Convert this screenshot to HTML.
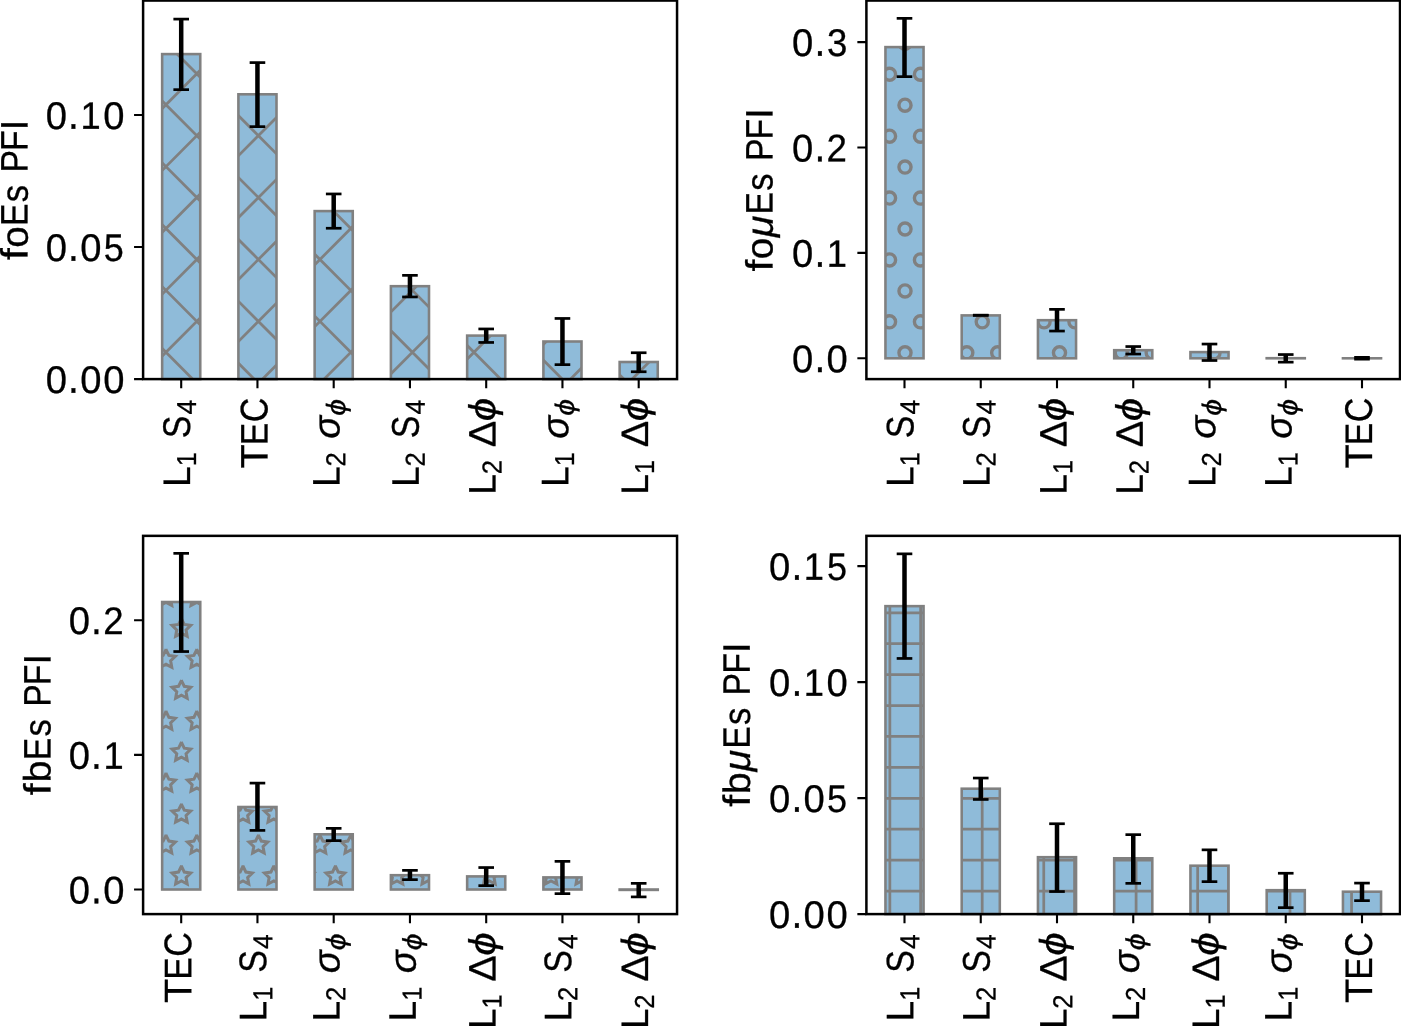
<!DOCTYPE html>
<html><head><meta charset="utf-8"><title>PFI bar charts</title>
<style>
html,body{margin:0;padding:0;background:#fff;}
svg{display:block;will-change:transform;font-family:"Liberation Sans",sans-serif;}
text{fill:#000;stroke:#000;stroke-width:0.3px;text-rendering:geometricPrecision;}
</style></head>
<body>
<svg width="1401" height="1026" viewBox="0 0 1401 1026">
<defs><clipPath id="c1"><rect x="162.15" y="54.10" width="38.10" height="325.00"/></clipPath><clipPath id="c2"><rect x="238.40" y="94.30" width="38.10" height="284.80"/></clipPath><clipPath id="c3"><rect x="314.65" y="211.10" width="38.10" height="168.00"/></clipPath><clipPath id="c4"><rect x="390.90" y="286.20" width="38.10" height="92.90"/></clipPath><clipPath id="c5"><rect x="467.15" y="335.60" width="38.10" height="43.50"/></clipPath><clipPath id="c6"><rect x="543.40" y="341.50" width="38.10" height="37.60"/></clipPath><clipPath id="c7"><rect x="619.65" y="362.00" width="38.10" height="17.10"/></clipPath><clipPath id="c8"><rect x="885.45" y="47.10" width="38.10" height="311.20"/></clipPath><clipPath id="c9"><rect x="961.70" y="315.40" width="38.10" height="42.90"/></clipPath><clipPath id="c10"><rect x="1037.95" y="320.20" width="38.10" height="38.10"/></clipPath><clipPath id="c11"><rect x="1114.20" y="350.20" width="38.10" height="8.10"/></clipPath><clipPath id="c12"><rect x="1190.45" y="352.10" width="38.10" height="6.20"/></clipPath><clipPath id="c13"><rect x="1266.70" y="358.20" width="38.10" height="0.10"/></clipPath><clipPath id="c14"><rect x="1342.95" y="358.30" width="38.10" height="0.01"/></clipPath><clipPath id="c15"><rect x="162.15" y="602.00" width="38.10" height="287.50"/></clipPath><clipPath id="c16"><rect x="238.40" y="807.00" width="38.10" height="82.50"/></clipPath><clipPath id="c17"><rect x="314.65" y="834.30" width="38.10" height="55.20"/></clipPath><clipPath id="c18"><rect x="390.90" y="875.20" width="38.10" height="14.30"/></clipPath><clipPath id="c19"><rect x="467.15" y="876.40" width="38.10" height="13.10"/></clipPath><clipPath id="c20"><rect x="543.40" y="877.40" width="38.10" height="12.10"/></clipPath><clipPath id="c21"><rect x="619.65" y="889.50" width="38.10" height="0.40"/></clipPath><clipPath id="c22"><rect x="885.45" y="606.15" width="38.10" height="307.95"/></clipPath><clipPath id="c23"><rect x="961.70" y="788.70" width="38.10" height="125.40"/></clipPath><clipPath id="c24"><rect x="1037.95" y="857.20" width="38.10" height="56.90"/></clipPath><clipPath id="c25"><rect x="1114.20" y="858.30" width="38.10" height="55.80"/></clipPath><clipPath id="c26"><rect x="1190.45" y="865.70" width="38.10" height="48.40"/></clipPath><clipPath id="c27"><rect x="1266.70" y="890.20" width="38.10" height="23.90"/></clipPath><clipPath id="c28"><rect x="1342.95" y="891.70" width="38.10" height="22.40"/></clipPath></defs>
<g><rect x="162.15" y="54.10" width="38.10" height="325.00" fill="#8fbbd9"/><g clip-path="url(#c1)"><path d="M150.15 -3.19L212.25 -65.59M150.15 58.71L212.25 -3.69M150.15 120.61L212.25 58.21M150.15 182.51L212.25 120.11M150.15 244.41L212.25 182.01M150.15 306.31L212.25 243.91M150.15 368.21L212.25 305.81M150.15 430.11L212.25 367.71M150.15 492.01L212.25 429.61M150.15 -35.00L212.25 27.40M150.15 26.90L212.25 89.30M150.15 88.80L212.25 151.20M150.15 150.70L212.25 213.10M150.15 212.60L212.25 275.00M150.15 274.50L212.25 336.90M150.15 336.40L212.25 398.80M150.15 398.30L212.25 460.70" stroke="#808080" stroke-width="2.75" fill="none"/></g><rect x="162.15" y="54.10" width="38.10" height="325.00" fill="none" stroke="#808080" stroke-width="2.58"/><rect x="238.40" y="94.30" width="38.10" height="284.80" fill="#8fbbd9"/><g clip-path="url(#c2)"><path d="M226.40 43.99L288.50 -18.41M226.40 105.89L288.50 43.49M226.40 167.79L288.50 105.39M226.40 229.69L288.50 167.29M226.40 291.59L288.50 229.19M226.40 353.49L288.50 291.09M226.40 415.39L288.50 352.99M226.40 477.29L288.50 414.89M226.40 -20.28L288.50 42.12M226.40 41.62L288.50 104.02M226.40 103.52L288.50 165.92M226.40 165.42L288.50 227.82M226.40 227.32L288.50 289.72M226.40 289.22L288.50 351.62M226.40 351.12L288.50 413.52M226.40 413.02L288.50 475.42" stroke="#808080" stroke-width="2.75" fill="none"/></g><rect x="238.40" y="94.30" width="38.10" height="284.80" fill="none" stroke="#808080" stroke-width="2.58"/><rect x="314.65" y="211.10" width="38.10" height="168.00" fill="#8fbbd9"/><g clip-path="url(#c3)"><path d="M302.65 153.07L364.75 90.67M302.65 214.97L364.75 152.57M302.65 276.87L364.75 214.47M302.65 338.77L364.75 276.37M302.65 400.67L364.75 338.27M302.65 462.57L364.75 400.17M302.65 118.24L364.75 180.64M302.65 180.14L364.75 242.54M302.65 242.04L364.75 304.44M302.65 303.94L364.75 366.34M302.65 365.84L364.75 428.24M302.65 427.74L364.75 490.14" stroke="#808080" stroke-width="2.75" fill="none"/></g><rect x="314.65" y="211.10" width="38.10" height="168.00" fill="none" stroke="#808080" stroke-width="2.58"/><rect x="390.90" y="286.20" width="38.10" height="92.90" fill="#8fbbd9"/><g clip-path="url(#c4)"><path d="M378.90 262.15L441.00 199.75M378.90 324.05L441.00 261.65M378.90 385.95L441.00 323.55M378.90 447.85L441.00 385.45M378.90 509.75L441.00 447.35M378.90 194.86L441.00 257.26M378.90 256.76L441.00 319.16M378.90 318.66L441.00 381.06M378.90 380.56L441.00 442.96M378.90 442.46L441.00 504.86" stroke="#808080" stroke-width="2.75" fill="none"/></g><rect x="390.90" y="286.20" width="38.10" height="92.90" fill="none" stroke="#808080" stroke-width="2.58"/><rect x="467.15" y="335.60" width="38.10" height="43.50" fill="#8fbbd9"/><g clip-path="url(#c5)"><path d="M455.15 309.33L517.25 246.92M455.15 371.23L517.25 308.82M455.15 433.13L517.25 370.72M455.15 495.03L517.25 432.62M455.15 209.58L517.25 271.98M455.15 271.48L517.25 333.88M455.15 333.38L517.25 395.78M455.15 395.28L517.25 457.68" stroke="#808080" stroke-width="2.75" fill="none"/></g><rect x="467.15" y="335.60" width="38.10" height="43.50" fill="none" stroke="#808080" stroke-width="2.58"/><rect x="543.40" y="341.50" width="38.10" height="37.60" fill="#8fbbd9"/><g clip-path="url(#c6)"><path d="M531.40 294.61L593.50 232.20M531.40 356.51L593.50 294.10M531.40 418.41L593.50 356.00M531.40 480.31L593.50 417.90M531.40 224.30L593.50 286.70M531.40 286.20L593.50 348.60M531.40 348.10L593.50 410.50M531.40 410.00L593.50 472.40" stroke="#808080" stroke-width="2.75" fill="none"/></g><rect x="543.40" y="341.50" width="38.10" height="37.60" fill="none" stroke="#808080" stroke-width="2.58"/><rect x="619.65" y="362.00" width="38.10" height="17.10" fill="#8fbbd9"/><g clip-path="url(#c7)"><path d="M607.65 341.78L669.75 279.38M607.65 403.68L669.75 341.28M607.65 465.58L669.75 403.18M607.65 239.02L669.75 301.43M607.65 300.92L669.75 363.33M607.65 362.82L669.75 425.23M607.65 424.72L669.75 487.13" stroke="#808080" stroke-width="2.75" fill="none"/></g><rect x="619.65" y="362.00" width="38.10" height="17.10" fill="none" stroke="#808080" stroke-width="2.58"/><rect x="178.95" y="19.10" width="4.5" height="70.55" fill="#000"/><rect x="173.40" y="17.75" width="15.6" height="2.7" fill="#000"/><rect x="173.40" y="88.30" width="15.6" height="2.7" fill="#000"/><rect x="255.20" y="62.60" width="4.5" height="64.05" fill="#000"/><rect x="249.65" y="61.25" width="15.6" height="2.7" fill="#000"/><rect x="249.65" y="125.30" width="15.6" height="2.7" fill="#000"/><rect x="331.45" y="193.95" width="4.5" height="34.30" fill="#000"/><rect x="325.90" y="192.60" width="15.6" height="2.7" fill="#000"/><rect x="325.90" y="226.90" width="15.6" height="2.7" fill="#000"/><rect x="407.70" y="275.35" width="4.5" height="21.60" fill="#000"/><rect x="402.15" y="274.00" width="15.6" height="2.7" fill="#000"/><rect x="402.15" y="295.60" width="15.6" height="2.7" fill="#000"/><rect x="483.95" y="328.95" width="4.5" height="13.50" fill="#000"/><rect x="478.40" y="327.60" width="15.6" height="2.7" fill="#000"/><rect x="478.40" y="341.10" width="15.6" height="2.7" fill="#000"/><rect x="560.20" y="318.45" width="4.5" height="46.20" fill="#000"/><rect x="554.65" y="317.10" width="15.6" height="2.7" fill="#000"/><rect x="554.65" y="363.30" width="15.6" height="2.7" fill="#000"/><rect x="636.45" y="352.75" width="4.5" height="19.00" fill="#000"/><rect x="630.90" y="351.40" width="15.6" height="2.7" fill="#000"/><rect x="630.90" y="370.40" width="15.6" height="2.7" fill="#000"/><path d="M181.20 379.10v9.04M257.45 379.10v9.04M333.70 379.10v9.04M409.95 379.10v9.04M486.20 379.10v9.04M562.45 379.10v9.04M638.70 379.10v9.04M143.10 379.10h-9.04M143.10 247.05h-9.04M143.10 115.00h-9.04" stroke="#000" stroke-width="2.1" fill="none"/><rect x="143.10" y="0.55" width="533.95" height="378.55" fill="none" stroke="#000" stroke-width="2.5"/><g><text transform="matrix(0.9874 0.0006 -0.0006 1 45.68 392.99)" font-size="38.65">0</text><text transform="matrix(0.9308 0.0006 -0.0006 1 68.11 392.84)" font-size="41.90">.</text><text transform="matrix(0.9874 0.0006 -0.0006 1 80.19 392.99)" font-size="38.65">0</text><text transform="matrix(0.9874 0.0006 -0.0006 1 103.20 392.99)" font-size="38.65">0</text></g><g><text transform="matrix(0.9874 0.0006 -0.0006 1 45.68 260.94)" font-size="38.65">0</text><text transform="matrix(0.9308 0.0006 -0.0006 1 68.11 260.79)" font-size="41.90">.</text><text transform="matrix(0.9874 0.0006 -0.0006 1 80.19 260.94)" font-size="38.65">0</text><text transform="matrix(0.9347 0.0006 -0.0006 1 103.65 260.94)" font-size="38.53">5</text></g><g><text transform="matrix(0.9874 0.0006 -0.0006 1 45.68 128.89)" font-size="38.65">0</text><text transform="matrix(0.9308 0.0006 -0.0006 1 68.11 128.74)" font-size="41.90">.</text><text transform="matrix(0.9481 0.0006 -0.0006 1 80.53 128.74)" font-size="38.31">1</text><text transform="matrix(0.9874 0.0006 -0.0006 1 103.20 128.89)" font-size="38.65">0</text></g><g aria-label="L1S4"><text transform="matrix(0.0006 -0.9701 1 0.0006 189.96 487.10)" font-size="38.31">L</text><text transform="matrix(0.0006 -0.9226 1 0.0006 195.89 466.24)" font-size="27.40">1</text><text transform="matrix(0.0006 -0.8800 1 0.0006 190.11 438.18)" font-size="38.65">S</text><text transform="matrix(0.0006 -0.9677 1 0.0006 195.89 414.57)" font-size="27.40">4</text></g><g aria-label="TEC"><text transform="matrix(0.0006 -1.0304 1 0.0006 267.43 468.39)" font-size="38.31">T</text><text transform="matrix(0.0006 -0.8800 1 0.0006 267.43 445.14)" font-size="38.31">E</text><text transform="matrix(0.0006 -0.8800 1 0.0006 267.57 422.28)" font-size="38.65">C</text></g><g aria-label="L2sig"><text transform="matrix(0.0006 -0.9701 1 0.0006 339.39 487.10)" font-size="38.31">L</text><text transform="matrix(0.0006 -0.9325 1 0.0006 345.32 466.54)" font-size="27.46">2</text><text transform="matrix(0.0006 -1.0038 1 0.0006 339.55 438.68)" font-size="37.73" font-style="italic">σ</text><text transform="matrix(0.0006 -1.1200 1 0.0006 345.13 415.68)" font-size="26.81" font-style="italic">ϕ</text></g><g aria-label="L2S4"><text transform="matrix(0.0006 -0.9701 1 0.0006 418.71 487.10)" font-size="38.31">L</text><text transform="matrix(0.0006 -0.9325 1 0.0006 424.64 466.54)" font-size="27.46">2</text><text transform="matrix(0.0006 -0.8800 1 0.0006 418.86 438.18)" font-size="38.65">S</text><text transform="matrix(0.0006 -0.9677 1 0.0006 424.64 414.57)" font-size="27.40">4</text></g><g aria-label="L2dphi"><text transform="matrix(0.0006 -0.9701 1 0.0006 495.60 494.85)" font-size="38.31">L</text><text transform="matrix(0.0006 -0.9325 1 0.0006 501.54 474.29)" font-size="27.46">2</text><text transform="matrix(0.0006 -1.0381 1 0.0006 495.60 447.16)" font-size="38.31">Δ</text><text transform="matrix(0.0006 -1.1200 1 0.0006 495.32 421.37)" font-size="37.54" font-style="italic">ϕ</text></g><g aria-label="L1sig"><text transform="matrix(0.0006 -0.9701 1 0.0006 568.14 487.10)" font-size="38.31">L</text><text transform="matrix(0.0006 -0.9226 1 0.0006 574.08 466.24)" font-size="27.40">1</text><text transform="matrix(0.0006 -1.0038 1 0.0006 568.30 438.68)" font-size="37.73" font-style="italic">σ</text><text transform="matrix(0.0006 -1.1200 1 0.0006 573.88 415.68)" font-size="26.81" font-style="italic">ϕ</text></g><g aria-label="L1dphi"><text transform="matrix(0.0006 -0.9701 1 0.0006 648.10 494.85)" font-size="38.31">L</text><text transform="matrix(0.0006 -0.9226 1 0.0006 654.04 473.99)" font-size="27.40">1</text><text transform="matrix(0.0006 -1.0381 1 0.0006 648.10 447.16)" font-size="38.31">Δ</text><text transform="matrix(0.0006 -1.1200 1 0.0006 647.82 421.37)" font-size="37.54" font-style="italic">ϕ</text></g><g><text transform="matrix(0.0006 -1.1200 1 0.0006 27.60 260.04)" font-size="37.99">f</text><text transform="matrix(0.0006 -1.0116 1 0.0006 27.75 247.80)" font-size="37.94">o</text><text transform="matrix(0.0006 -0.8800 1 0.0006 27.60 225.93)" font-size="38.31">E</text><text transform="matrix(0.0006 -0.9100 1 0.0006 27.75 202.21)" font-size="38.05">s</text><text transform="matrix(0.0006 -0.8800 1 0.0006 27.60 172.56)" font-size="38.31">P</text><text transform="matrix(0.0006 -0.8800 1 0.0006 27.60 150.96)" font-size="38.31">F</text><text transform="matrix(0.0006 -0.9941 1 0.0006 27.60 130.24)" font-size="38.31">I</text></g></g>
<g><rect x="885.45" y="47.10" width="38.10" height="311.20" fill="#8fbbd9"/><g clip-path="url(#c8)"><circle cx="858.65" cy="383.75" r="6.05" fill="none" stroke="#808080" stroke-width="3.4"/><circle cx="858.65" cy="321.85" r="6.05" fill="none" stroke="#808080" stroke-width="3.4"/><circle cx="858.65" cy="259.95" r="6.05" fill="none" stroke="#808080" stroke-width="3.4"/><circle cx="858.65" cy="198.05" r="6.05" fill="none" stroke="#808080" stroke-width="3.4"/><circle cx="858.65" cy="136.15" r="6.05" fill="none" stroke="#808080" stroke-width="3.4"/><circle cx="858.65" cy="74.25" r="6.05" fill="none" stroke="#808080" stroke-width="3.4"/><circle cx="858.65" cy="12.35" r="6.05" fill="none" stroke="#808080" stroke-width="3.4"/><circle cx="874.10" cy="352.80" r="6.05" fill="none" stroke="#808080" stroke-width="3.4"/><circle cx="874.10" cy="290.90" r="6.05" fill="none" stroke="#808080" stroke-width="3.4"/><circle cx="874.10" cy="229.00" r="6.05" fill="none" stroke="#808080" stroke-width="3.4"/><circle cx="874.10" cy="167.10" r="6.05" fill="none" stroke="#808080" stroke-width="3.4"/><circle cx="874.10" cy="105.20" r="6.05" fill="none" stroke="#808080" stroke-width="3.4"/><circle cx="874.10" cy="43.30" r="6.05" fill="none" stroke="#808080" stroke-width="3.4"/><circle cx="889.55" cy="383.75" r="6.05" fill="none" stroke="#808080" stroke-width="3.4"/><circle cx="889.55" cy="321.85" r="6.05" fill="none" stroke="#808080" stroke-width="3.4"/><circle cx="889.55" cy="259.95" r="6.05" fill="none" stroke="#808080" stroke-width="3.4"/><circle cx="889.55" cy="198.05" r="6.05" fill="none" stroke="#808080" stroke-width="3.4"/><circle cx="889.55" cy="136.15" r="6.05" fill="none" stroke="#808080" stroke-width="3.4"/><circle cx="889.55" cy="74.25" r="6.05" fill="none" stroke="#808080" stroke-width="3.4"/><circle cx="889.55" cy="12.35" r="6.05" fill="none" stroke="#808080" stroke-width="3.4"/><circle cx="905.00" cy="352.80" r="6.05" fill="none" stroke="#808080" stroke-width="3.4"/><circle cx="905.00" cy="290.90" r="6.05" fill="none" stroke="#808080" stroke-width="3.4"/><circle cx="905.00" cy="229.00" r="6.05" fill="none" stroke="#808080" stroke-width="3.4"/><circle cx="905.00" cy="167.10" r="6.05" fill="none" stroke="#808080" stroke-width="3.4"/><circle cx="905.00" cy="105.20" r="6.05" fill="none" stroke="#808080" stroke-width="3.4"/><circle cx="905.00" cy="43.30" r="6.05" fill="none" stroke="#808080" stroke-width="3.4"/><circle cx="920.45" cy="383.75" r="6.05" fill="none" stroke="#808080" stroke-width="3.4"/><circle cx="920.45" cy="321.85" r="6.05" fill="none" stroke="#808080" stroke-width="3.4"/><circle cx="920.45" cy="259.95" r="6.05" fill="none" stroke="#808080" stroke-width="3.4"/><circle cx="920.45" cy="198.05" r="6.05" fill="none" stroke="#808080" stroke-width="3.4"/><circle cx="920.45" cy="136.15" r="6.05" fill="none" stroke="#808080" stroke-width="3.4"/><circle cx="920.45" cy="74.25" r="6.05" fill="none" stroke="#808080" stroke-width="3.4"/><circle cx="920.45" cy="12.35" r="6.05" fill="none" stroke="#808080" stroke-width="3.4"/><circle cx="935.90" cy="352.80" r="6.05" fill="none" stroke="#808080" stroke-width="3.4"/><circle cx="935.90" cy="290.90" r="6.05" fill="none" stroke="#808080" stroke-width="3.4"/><circle cx="935.90" cy="229.00" r="6.05" fill="none" stroke="#808080" stroke-width="3.4"/><circle cx="935.90" cy="167.10" r="6.05" fill="none" stroke="#808080" stroke-width="3.4"/><circle cx="935.90" cy="105.20" r="6.05" fill="none" stroke="#808080" stroke-width="3.4"/><circle cx="935.90" cy="43.30" r="6.05" fill="none" stroke="#808080" stroke-width="3.4"/></g><rect x="885.45" y="47.10" width="38.10" height="311.20" fill="none" stroke="#808080" stroke-width="2.58"/><rect x="961.70" y="315.40" width="38.10" height="42.90" fill="#8fbbd9"/><g clip-path="url(#c9)"><circle cx="935.90" cy="352.80" r="6.05" fill="none" stroke="#808080" stroke-width="3.4"/><circle cx="935.90" cy="290.90" r="6.05" fill="none" stroke="#808080" stroke-width="3.4"/><circle cx="951.35" cy="383.75" r="6.05" fill="none" stroke="#808080" stroke-width="3.4"/><circle cx="951.35" cy="321.85" r="6.05" fill="none" stroke="#808080" stroke-width="3.4"/><circle cx="966.80" cy="352.80" r="6.05" fill="none" stroke="#808080" stroke-width="3.4"/><circle cx="966.80" cy="290.90" r="6.05" fill="none" stroke="#808080" stroke-width="3.4"/><circle cx="982.25" cy="383.75" r="6.05" fill="none" stroke="#808080" stroke-width="3.4"/><circle cx="982.25" cy="321.85" r="6.05" fill="none" stroke="#808080" stroke-width="3.4"/><circle cx="997.70" cy="352.80" r="6.05" fill="none" stroke="#808080" stroke-width="3.4"/><circle cx="997.70" cy="290.90" r="6.05" fill="none" stroke="#808080" stroke-width="3.4"/><circle cx="1013.15" cy="383.75" r="6.05" fill="none" stroke="#808080" stroke-width="3.4"/><circle cx="1013.15" cy="321.85" r="6.05" fill="none" stroke="#808080" stroke-width="3.4"/></g><rect x="961.70" y="315.40" width="38.10" height="42.90" fill="none" stroke="#808080" stroke-width="2.58"/><rect x="1037.95" y="320.20" width="38.10" height="38.10" fill="#8fbbd9"/><g clip-path="url(#c10)"><circle cx="1013.15" cy="383.75" r="6.05" fill="none" stroke="#808080" stroke-width="3.4"/><circle cx="1013.15" cy="321.85" r="6.05" fill="none" stroke="#808080" stroke-width="3.4"/><circle cx="1028.60" cy="352.80" r="6.05" fill="none" stroke="#808080" stroke-width="3.4"/><circle cx="1028.60" cy="290.90" r="6.05" fill="none" stroke="#808080" stroke-width="3.4"/><circle cx="1044.05" cy="383.75" r="6.05" fill="none" stroke="#808080" stroke-width="3.4"/><circle cx="1044.05" cy="321.85" r="6.05" fill="none" stroke="#808080" stroke-width="3.4"/><circle cx="1059.50" cy="352.80" r="6.05" fill="none" stroke="#808080" stroke-width="3.4"/><circle cx="1059.50" cy="290.90" r="6.05" fill="none" stroke="#808080" stroke-width="3.4"/><circle cx="1074.95" cy="383.75" r="6.05" fill="none" stroke="#808080" stroke-width="3.4"/><circle cx="1074.95" cy="321.85" r="6.05" fill="none" stroke="#808080" stroke-width="3.4"/><circle cx="1090.40" cy="352.80" r="6.05" fill="none" stroke="#808080" stroke-width="3.4"/><circle cx="1090.40" cy="290.90" r="6.05" fill="none" stroke="#808080" stroke-width="3.4"/></g><rect x="1037.95" y="320.20" width="38.10" height="38.10" fill="none" stroke="#808080" stroke-width="2.58"/><rect x="1114.20" y="350.20" width="38.10" height="8.10" fill="#8fbbd9"/><g clip-path="url(#c11)"><circle cx="1090.40" cy="352.80" r="6.05" fill="none" stroke="#808080" stroke-width="3.4"/><circle cx="1105.85" cy="383.75" r="6.05" fill="none" stroke="#808080" stroke-width="3.4"/><circle cx="1105.85" cy="321.85" r="6.05" fill="none" stroke="#808080" stroke-width="3.4"/><circle cx="1121.30" cy="352.80" r="6.05" fill="none" stroke="#808080" stroke-width="3.4"/><circle cx="1136.75" cy="383.75" r="6.05" fill="none" stroke="#808080" stroke-width="3.4"/><circle cx="1136.75" cy="321.85" r="6.05" fill="none" stroke="#808080" stroke-width="3.4"/><circle cx="1152.20" cy="352.80" r="6.05" fill="none" stroke="#808080" stroke-width="3.4"/><circle cx="1167.65" cy="383.75" r="6.05" fill="none" stroke="#808080" stroke-width="3.4"/><circle cx="1167.65" cy="321.85" r="6.05" fill="none" stroke="#808080" stroke-width="3.4"/></g><rect x="1114.20" y="350.20" width="38.10" height="8.10" fill="none" stroke="#808080" stroke-width="2.58"/><rect x="1190.45" y="352.10" width="38.10" height="6.20" fill="#8fbbd9"/><g clip-path="url(#c12)"><circle cx="1167.65" cy="383.75" r="6.05" fill="none" stroke="#808080" stroke-width="3.4"/><circle cx="1167.65" cy="321.85" r="6.05" fill="none" stroke="#808080" stroke-width="3.4"/><circle cx="1183.10" cy="352.80" r="6.05" fill="none" stroke="#808080" stroke-width="3.4"/><circle cx="1198.55" cy="383.75" r="6.05" fill="none" stroke="#808080" stroke-width="3.4"/><circle cx="1198.55" cy="321.85" r="6.05" fill="none" stroke="#808080" stroke-width="3.4"/><circle cx="1214.00" cy="352.80" r="6.05" fill="none" stroke="#808080" stroke-width="3.4"/><circle cx="1229.45" cy="383.75" r="6.05" fill="none" stroke="#808080" stroke-width="3.4"/><circle cx="1229.45" cy="321.85" r="6.05" fill="none" stroke="#808080" stroke-width="3.4"/><circle cx="1244.90" cy="352.80" r="6.05" fill="none" stroke="#808080" stroke-width="3.4"/></g><rect x="1190.45" y="352.10" width="38.10" height="6.20" fill="none" stroke="#808080" stroke-width="2.58"/><rect x="1266.70" y="358.20" width="38.10" height="0.10" fill="#8fbbd9"/><rect x="1266.70" y="358.20" width="38.10" height="0.10" fill="none" stroke="#808080" stroke-width="2.58"/><rect x="1342.95" y="358.30" width="38.10" height="0.01" fill="#8fbbd9"/><rect x="1342.95" y="358.30" width="38.10" height="0.01" fill="none" stroke="#808080" stroke-width="2.58"/><rect x="902.25" y="18.35" width="4.5" height="58.30" fill="#000"/><rect x="896.70" y="17.00" width="15.6" height="2.7" fill="#000"/><rect x="896.70" y="75.30" width="15.6" height="2.7" fill="#000"/><rect x="972.95" y="313.80" width="15.6" height="2.7" fill="#000"/><rect x="972.95" y="314.00" width="15.6" height="2.7" fill="#000"/><rect x="1054.75" y="309.35" width="4.5" height="21.70" fill="#000"/><rect x="1049.20" y="308.00" width="15.6" height="2.7" fill="#000"/><rect x="1049.20" y="329.70" width="15.6" height="2.7" fill="#000"/><rect x="1131.00" y="346.55" width="4.5" height="7.50" fill="#000"/><rect x="1125.45" y="345.20" width="15.6" height="2.7" fill="#000"/><rect x="1125.45" y="352.70" width="15.6" height="2.7" fill="#000"/><rect x="1207.25" y="344.05" width="4.5" height="16.45" fill="#000"/><rect x="1201.70" y="342.70" width="15.6" height="2.7" fill="#000"/><rect x="1201.70" y="359.15" width="15.6" height="2.7" fill="#000"/><rect x="1283.50" y="354.55" width="4.5" height="7.60" fill="#000"/><rect x="1277.95" y="353.20" width="15.6" height="2.7" fill="#000"/><rect x="1277.95" y="360.80" width="15.6" height="2.7" fill="#000"/><rect x="1359.75" y="357.35" width="4.5" height="1.80" fill="#000"/><rect x="1354.20" y="356.00" width="15.6" height="2.7" fill="#000"/><rect x="1354.20" y="357.80" width="15.6" height="2.7" fill="#000"/><path d="M904.50 379.10v9.04M980.75 379.10v9.04M1057.00 379.10v9.04M1133.25 379.10v9.04M1209.50 379.10v9.04M1285.75 379.10v9.04M1362.00 379.10v9.04M866.40 358.30h-9.04M866.40 252.90h-9.04M866.40 147.50h-9.04M866.40 42.10h-9.04" stroke="#000" stroke-width="2.1" fill="none"/><rect x="866.40" y="0.55" width="533.60" height="378.55" fill="none" stroke="#000" stroke-width="2.5"/><g><text transform="matrix(0.9874 0.0006 -0.0006 1 791.99 372.19)" font-size="38.65">0</text><text transform="matrix(0.9308 0.0006 -0.0006 1 814.42 372.04)" font-size="41.90">.</text><text transform="matrix(0.9874 0.0006 -0.0006 1 826.50 372.19)" font-size="38.65">0</text></g><g><text transform="matrix(0.9874 0.0006 -0.0006 1 791.99 266.79)" font-size="38.65">0</text><text transform="matrix(0.9308 0.0006 -0.0006 1 814.42 266.64)" font-size="41.90">.</text><text transform="matrix(0.9481 0.0006 -0.0006 1 826.84 266.64)" font-size="38.31">1</text></g><g><text transform="matrix(0.9874 0.0006 -0.0006 1 791.99 161.39)" font-size="38.65">0</text><text transform="matrix(0.9308 0.0006 -0.0006 1 814.42 161.24)" font-size="41.90">.</text><text transform="matrix(0.9542 0.0006 -0.0006 1 826.43 161.24)" font-size="38.44">2</text></g><g><text transform="matrix(0.9874 0.0006 -0.0006 1 791.99 55.99)" font-size="38.65">0</text><text transform="matrix(0.9308 0.0006 -0.0006 1 814.42 55.84)" font-size="41.90">.</text><text transform="matrix(0.9471 0.0006 -0.0006 1 826.96 55.99)" font-size="38.65">3</text></g><g aria-label="L1S4"><text transform="matrix(0.0006 -0.9701 1 0.0006 913.26 487.10)" font-size="38.31">L</text><text transform="matrix(0.0006 -0.9226 1 0.0006 919.19 466.24)" font-size="27.40">1</text><text transform="matrix(0.0006 -0.8800 1 0.0006 913.41 438.18)" font-size="38.65">S</text><text transform="matrix(0.0006 -0.9677 1 0.0006 919.19 414.57)" font-size="27.40">4</text></g><g aria-label="L2S4"><text transform="matrix(0.0006 -0.9701 1 0.0006 989.51 487.10)" font-size="38.31">L</text><text transform="matrix(0.0006 -0.9325 1 0.0006 995.44 466.54)" font-size="27.46">2</text><text transform="matrix(0.0006 -0.8800 1 0.0006 989.66 438.18)" font-size="38.65">S</text><text transform="matrix(0.0006 -0.9677 1 0.0006 995.44 414.57)" font-size="27.40">4</text></g><g aria-label="L1dphi"><text transform="matrix(0.0006 -0.9701 1 0.0006 1066.40 494.85)" font-size="38.31">L</text><text transform="matrix(0.0006 -0.9226 1 0.0006 1072.34 473.99)" font-size="27.40">1</text><text transform="matrix(0.0006 -1.0381 1 0.0006 1066.40 447.16)" font-size="38.31">Δ</text><text transform="matrix(0.0006 -1.1200 1 0.0006 1066.12 421.37)" font-size="37.54" font-style="italic">ϕ</text></g><g aria-label="L2dphi"><text transform="matrix(0.0006 -0.9701 1 0.0006 1142.65 494.85)" font-size="38.31">L</text><text transform="matrix(0.0006 -0.9325 1 0.0006 1148.59 474.29)" font-size="27.46">2</text><text transform="matrix(0.0006 -1.0381 1 0.0006 1142.65 447.16)" font-size="38.31">Δ</text><text transform="matrix(0.0006 -1.1200 1 0.0006 1142.37 421.37)" font-size="37.54" font-style="italic">ϕ</text></g><g aria-label="L2sig"><text transform="matrix(0.0006 -0.9701 1 0.0006 1215.19 487.10)" font-size="38.31">L</text><text transform="matrix(0.0006 -0.9325 1 0.0006 1221.12 466.54)" font-size="27.46">2</text><text transform="matrix(0.0006 -1.0038 1 0.0006 1215.35 438.68)" font-size="37.73" font-style="italic">σ</text><text transform="matrix(0.0006 -1.1200 1 0.0006 1220.93 415.68)" font-size="26.81" font-style="italic">ϕ</text></g><g aria-label="L1sig"><text transform="matrix(0.0006 -0.9701 1 0.0006 1291.44 487.10)" font-size="38.31">L</text><text transform="matrix(0.0006 -0.9226 1 0.0006 1297.38 466.24)" font-size="27.40">1</text><text transform="matrix(0.0006 -1.0038 1 0.0006 1291.60 438.68)" font-size="37.73" font-style="italic">σ</text><text transform="matrix(0.0006 -1.1200 1 0.0006 1297.18 415.68)" font-size="26.81" font-style="italic">ϕ</text></g><g aria-label="TEC"><text transform="matrix(0.0006 -1.0304 1 0.0006 1371.98 468.39)" font-size="38.31">T</text><text transform="matrix(0.0006 -0.8800 1 0.0006 1371.98 445.14)" font-size="38.31">E</text><text transform="matrix(0.0006 -0.8800 1 0.0006 1372.12 422.28)" font-size="38.65">C</text></g><g><text transform="matrix(0.0006 -1.1200 1 0.0006 772.40 271.59)" font-size="37.99">f</text><text transform="matrix(0.0006 -1.0116 1 0.0006 772.55 259.35)" font-size="37.94">o</text><text transform="matrix(0.0006 -1.0447 1 0.0006 772.64 237.28)" font-size="37.89" font-style="italic">μ</text><text transform="matrix(0.0006 -0.8800 1 0.0006 772.40 214.47)" font-size="38.31">E</text><text transform="matrix(0.0006 -0.9100 1 0.0006 772.55 190.76)" font-size="38.05">s</text><text transform="matrix(0.0006 -0.8800 1 0.0006 772.40 161.10)" font-size="38.31">P</text><text transform="matrix(0.0006 -0.8800 1 0.0006 772.40 139.51)" font-size="38.31">F</text><text transform="matrix(0.0006 -0.9941 1 0.0006 772.40 118.78)" font-size="38.31">I</text></g></g>
<g><rect x="162.15" y="602.00" width="38.10" height="287.50" fill="#8fbbd9"/><g clip-path="url(#c15)"><path d="M135.20,896.63L132.17,902.78L125.39,903.76L130.29,908.54L129.13,915.30L135.20,912.11L141.27,915.30L140.11,908.54L145.01,903.76L138.23,902.78L135.20,896.63M135.20,897.66L132.47,903.19L126.36,904.08L130.78,908.39L129.74,914.47L135.20,911.60L140.66,914.47L139.62,908.39L144.04,904.08L137.93,903.19L135.20,897.66" fill="none" stroke="#808080" stroke-width="2.58" stroke-linejoin="miter" stroke-miterlimit="10"/><path d="M135.20,834.73L132.17,840.88L125.39,841.86L130.29,846.64L129.13,853.40L135.20,850.21L141.27,853.40L140.11,846.64L145.01,841.86L138.23,840.88L135.20,834.73M135.20,835.76L132.47,841.29L126.36,842.18L130.78,846.49L129.74,852.57L135.20,849.69L140.66,852.57L139.62,846.49L144.04,842.18L137.93,841.29L135.20,835.76" fill="none" stroke="#808080" stroke-width="2.58" stroke-linejoin="miter" stroke-miterlimit="10"/><path d="M135.20,772.83L132.17,778.98L125.39,779.96L130.29,784.74L129.13,791.50L135.20,788.31L141.27,791.50L140.11,784.74L145.01,779.96L138.23,778.98L135.20,772.83M135.20,773.86L132.47,779.39L126.36,780.28L130.78,784.59L129.74,790.67L135.20,787.79L140.66,790.67L139.62,784.59L144.04,780.28L137.93,779.39L135.20,773.86" fill="none" stroke="#808080" stroke-width="2.58" stroke-linejoin="miter" stroke-miterlimit="10"/><path d="M135.20,710.93L132.17,717.08L125.39,718.06L130.29,722.84L129.13,729.60L135.20,726.41L141.27,729.60L140.11,722.84L145.01,718.06L138.23,717.08L135.20,710.93M135.20,711.96L132.47,717.49L126.36,718.38L130.78,722.69L129.74,728.77L135.20,725.89L140.66,728.77L139.62,722.69L144.04,718.38L137.93,717.49L135.20,711.96" fill="none" stroke="#808080" stroke-width="2.58" stroke-linejoin="miter" stroke-miterlimit="10"/><path d="M135.20,649.03L132.17,655.18L125.39,656.16L130.29,660.94L129.13,667.70L135.20,664.51L141.27,667.70L140.11,660.94L145.01,656.16L138.23,655.18L135.20,649.03M135.20,650.06L132.47,655.59L126.36,656.48L130.78,660.79L129.74,666.87L135.20,664.00L140.66,666.87L139.62,660.79L144.04,656.48L137.93,655.59L135.20,650.06" fill="none" stroke="#808080" stroke-width="2.58" stroke-linejoin="miter" stroke-miterlimit="10"/><path d="M135.20,587.13L132.17,593.28L125.39,594.26L130.29,599.04L129.13,605.80L135.20,602.61L141.27,605.80L140.11,599.04L145.01,594.26L138.23,593.28L135.20,587.13M135.20,588.16L132.47,593.69L126.36,594.58L130.78,598.89L129.74,604.97L135.20,602.10L140.66,604.97L139.62,598.89L144.04,594.58L137.93,593.69L135.20,588.16" fill="none" stroke="#808080" stroke-width="2.58" stroke-linejoin="miter" stroke-miterlimit="10"/><path d="M150.60,865.68L147.57,871.83L140.79,872.81L145.69,877.59L144.53,884.35L150.60,881.16L156.67,884.35L155.51,877.59L160.41,872.81L153.63,871.83L150.60,865.68M150.60,866.71L147.87,872.24L141.76,873.13L146.18,877.44L145.14,883.52L150.60,880.64L156.06,883.52L155.02,877.44L159.44,873.13L153.33,872.24L150.60,866.71" fill="none" stroke="#808080" stroke-width="2.58" stroke-linejoin="miter" stroke-miterlimit="10"/><path d="M150.60,803.78L147.57,809.93L140.79,810.91L145.69,815.69L144.53,822.45L150.60,819.26L156.67,822.45L155.51,815.69L160.41,810.91L153.63,809.93L150.60,803.78M150.60,804.81L147.87,810.34L141.76,811.23L146.18,815.54L145.14,821.62L150.60,818.75L156.06,821.62L155.02,815.54L159.44,811.23L153.33,810.34L150.60,804.81" fill="none" stroke="#808080" stroke-width="2.58" stroke-linejoin="miter" stroke-miterlimit="10"/><path d="M150.60,741.88L147.57,748.03L140.79,749.01L145.69,753.79L144.53,760.55L150.60,757.36L156.67,760.55L155.51,753.79L160.41,749.01L153.63,748.03L150.60,741.88M150.60,742.91L147.87,748.44L141.76,749.33L146.18,753.64L145.14,759.72L150.60,756.85L156.06,759.72L155.02,753.64L159.44,749.33L153.33,748.44L150.60,742.91" fill="none" stroke="#808080" stroke-width="2.58" stroke-linejoin="miter" stroke-miterlimit="10"/><path d="M150.60,679.98L147.57,686.13L140.79,687.11L145.69,691.89L144.53,698.65L150.60,695.46L156.67,698.65L155.51,691.89L160.41,687.11L153.63,686.13L150.60,679.98M150.60,681.01L147.87,686.54L141.76,687.43L146.18,691.74L145.14,697.82L150.60,694.94L156.06,697.82L155.02,691.74L159.44,687.43L153.33,686.54L150.60,681.01" fill="none" stroke="#808080" stroke-width="2.58" stroke-linejoin="miter" stroke-miterlimit="10"/><path d="M150.60,618.08L147.57,624.23L140.79,625.21L145.69,629.99L144.53,636.75L150.60,633.56L156.67,636.75L155.51,629.99L160.41,625.21L153.63,624.23L150.60,618.08M150.60,619.11L147.87,624.64L141.76,625.53L146.18,629.84L145.14,635.92L150.60,633.04L156.06,635.92L155.02,629.84L159.44,625.53L153.33,624.64L150.60,619.11" fill="none" stroke="#808080" stroke-width="2.58" stroke-linejoin="miter" stroke-miterlimit="10"/><path d="M150.60,556.18L147.57,562.33L140.79,563.31L145.69,568.09L144.53,574.85L150.60,571.66L156.67,574.85L155.51,568.09L160.41,563.31L153.63,562.33L150.60,556.18M150.60,557.21L147.87,562.74L141.76,563.63L146.18,567.94L145.14,574.02L150.60,571.14L156.06,574.02L155.02,567.94L159.44,563.63L153.33,562.74L150.60,557.21" fill="none" stroke="#808080" stroke-width="2.58" stroke-linejoin="miter" stroke-miterlimit="10"/><path d="M166.00,896.63L162.97,902.78L156.19,903.76L161.09,908.54L159.93,915.30L166.00,912.11L172.07,915.30L170.91,908.54L175.81,903.76L169.03,902.78L166.00,896.63M166.00,897.66L163.27,903.19L157.16,904.08L161.58,908.39L160.54,914.47L166.00,911.60L171.46,914.47L170.42,908.39L174.84,904.08L168.73,903.19L166.00,897.66" fill="none" stroke="#808080" stroke-width="2.58" stroke-linejoin="miter" stroke-miterlimit="10"/><path d="M166.00,834.73L162.97,840.88L156.19,841.86L161.09,846.64L159.93,853.40L166.00,850.21L172.07,853.40L170.91,846.64L175.81,841.86L169.03,840.88L166.00,834.73M166.00,835.76L163.27,841.29L157.16,842.18L161.58,846.49L160.54,852.57L166.00,849.69L171.46,852.57L170.42,846.49L174.84,842.18L168.73,841.29L166.00,835.76" fill="none" stroke="#808080" stroke-width="2.58" stroke-linejoin="miter" stroke-miterlimit="10"/><path d="M166.00,772.83L162.97,778.98L156.19,779.96L161.09,784.74L159.93,791.50L166.00,788.31L172.07,791.50L170.91,784.74L175.81,779.96L169.03,778.98L166.00,772.83M166.00,773.86L163.27,779.39L157.16,780.28L161.58,784.59L160.54,790.67L166.00,787.79L171.46,790.67L170.42,784.59L174.84,780.28L168.73,779.39L166.00,773.86" fill="none" stroke="#808080" stroke-width="2.58" stroke-linejoin="miter" stroke-miterlimit="10"/><path d="M166.00,710.93L162.97,717.08L156.19,718.06L161.09,722.84L159.93,729.60L166.00,726.41L172.07,729.60L170.91,722.84L175.81,718.06L169.03,717.08L166.00,710.93M166.00,711.96L163.27,717.49L157.16,718.38L161.58,722.69L160.54,728.77L166.00,725.89L171.46,728.77L170.42,722.69L174.84,718.38L168.73,717.49L166.00,711.96" fill="none" stroke="#808080" stroke-width="2.58" stroke-linejoin="miter" stroke-miterlimit="10"/><path d="M166.00,649.03L162.97,655.18L156.19,656.16L161.09,660.94L159.93,667.70L166.00,664.51L172.07,667.70L170.91,660.94L175.81,656.16L169.03,655.18L166.00,649.03M166.00,650.06L163.27,655.59L157.16,656.48L161.58,660.79L160.54,666.87L166.00,664.00L171.46,666.87L170.42,660.79L174.84,656.48L168.73,655.59L166.00,650.06" fill="none" stroke="#808080" stroke-width="2.58" stroke-linejoin="miter" stroke-miterlimit="10"/><path d="M166.00,587.13L162.97,593.28L156.19,594.26L161.09,599.04L159.93,605.80L166.00,602.61L172.07,605.80L170.91,599.04L175.81,594.26L169.03,593.28L166.00,587.13M166.00,588.16L163.27,593.69L157.16,594.58L161.58,598.89L160.54,604.97L166.00,602.10L171.46,604.97L170.42,598.89L174.84,594.58L168.73,593.69L166.00,588.16" fill="none" stroke="#808080" stroke-width="2.58" stroke-linejoin="miter" stroke-miterlimit="10"/><path d="M181.40,865.68L178.37,871.83L171.59,872.81L176.49,877.59L175.33,884.35L181.40,881.16L187.47,884.35L186.31,877.59L191.21,872.81L184.43,871.83L181.40,865.68M181.40,866.71L178.67,872.24L172.56,873.13L176.98,877.44L175.94,883.52L181.40,880.64L186.86,883.52L185.82,877.44L190.24,873.13L184.13,872.24L181.40,866.71" fill="none" stroke="#808080" stroke-width="2.58" stroke-linejoin="miter" stroke-miterlimit="10"/><path d="M181.40,803.78L178.37,809.93L171.59,810.91L176.49,815.69L175.33,822.45L181.40,819.26L187.47,822.45L186.31,815.69L191.21,810.91L184.43,809.93L181.40,803.78M181.40,804.81L178.67,810.34L172.56,811.23L176.98,815.54L175.94,821.62L181.40,818.75L186.86,821.62L185.82,815.54L190.24,811.23L184.13,810.34L181.40,804.81" fill="none" stroke="#808080" stroke-width="2.58" stroke-linejoin="miter" stroke-miterlimit="10"/><path d="M181.40,741.88L178.37,748.03L171.59,749.01L176.49,753.79L175.33,760.55L181.40,757.36L187.47,760.55L186.31,753.79L191.21,749.01L184.43,748.03L181.40,741.88M181.40,742.91L178.67,748.44L172.56,749.33L176.98,753.64L175.94,759.72L181.40,756.85L186.86,759.72L185.82,753.64L190.24,749.33L184.13,748.44L181.40,742.91" fill="none" stroke="#808080" stroke-width="2.58" stroke-linejoin="miter" stroke-miterlimit="10"/><path d="M181.40,679.98L178.37,686.13L171.59,687.11L176.49,691.89L175.33,698.65L181.40,695.46L187.47,698.65L186.31,691.89L191.21,687.11L184.43,686.13L181.40,679.98M181.40,681.01L178.67,686.54L172.56,687.43L176.98,691.74L175.94,697.82L181.40,694.94L186.86,697.82L185.82,691.74L190.24,687.43L184.13,686.54L181.40,681.01" fill="none" stroke="#808080" stroke-width="2.58" stroke-linejoin="miter" stroke-miterlimit="10"/><path d="M181.40,618.08L178.37,624.23L171.59,625.21L176.49,629.99L175.33,636.75L181.40,633.56L187.47,636.75L186.31,629.99L191.21,625.21L184.43,624.23L181.40,618.08M181.40,619.11L178.67,624.64L172.56,625.53L176.98,629.84L175.94,635.92L181.40,633.04L186.86,635.92L185.82,629.84L190.24,625.53L184.13,624.64L181.40,619.11" fill="none" stroke="#808080" stroke-width="2.58" stroke-linejoin="miter" stroke-miterlimit="10"/><path d="M181.40,556.18L178.37,562.33L171.59,563.31L176.49,568.09L175.33,574.85L181.40,571.66L187.47,574.85L186.31,568.09L191.21,563.31L184.43,562.33L181.40,556.18M181.40,557.21L178.67,562.74L172.56,563.63L176.98,567.94L175.94,574.02L181.40,571.14L186.86,574.02L185.82,567.94L190.24,563.63L184.13,562.74L181.40,557.21" fill="none" stroke="#808080" stroke-width="2.58" stroke-linejoin="miter" stroke-miterlimit="10"/><path d="M196.80,896.63L193.77,902.78L186.99,903.76L191.89,908.54L190.73,915.30L196.80,912.11L202.87,915.30L201.71,908.54L206.61,903.76L199.83,902.78L196.80,896.63M196.80,897.66L194.07,903.19L187.96,904.08L192.38,908.39L191.34,914.47L196.80,911.60L202.26,914.47L201.22,908.39L205.64,904.08L199.53,903.19L196.80,897.66" fill="none" stroke="#808080" stroke-width="2.58" stroke-linejoin="miter" stroke-miterlimit="10"/><path d="M196.80,834.73L193.77,840.88L186.99,841.86L191.89,846.64L190.73,853.40L196.80,850.21L202.87,853.40L201.71,846.64L206.61,841.86L199.83,840.88L196.80,834.73M196.80,835.76L194.07,841.29L187.96,842.18L192.38,846.49L191.34,852.57L196.80,849.69L202.26,852.57L201.22,846.49L205.64,842.18L199.53,841.29L196.80,835.76" fill="none" stroke="#808080" stroke-width="2.58" stroke-linejoin="miter" stroke-miterlimit="10"/><path d="M196.80,772.83L193.77,778.98L186.99,779.96L191.89,784.74L190.73,791.50L196.80,788.31L202.87,791.50L201.71,784.74L206.61,779.96L199.83,778.98L196.80,772.83M196.80,773.86L194.07,779.39L187.96,780.28L192.38,784.59L191.34,790.67L196.80,787.79L202.26,790.67L201.22,784.59L205.64,780.28L199.53,779.39L196.80,773.86" fill="none" stroke="#808080" stroke-width="2.58" stroke-linejoin="miter" stroke-miterlimit="10"/><path d="M196.80,710.93L193.77,717.08L186.99,718.06L191.89,722.84L190.73,729.60L196.80,726.41L202.87,729.60L201.71,722.84L206.61,718.06L199.83,717.08L196.80,710.93M196.80,711.96L194.07,717.49L187.96,718.38L192.38,722.69L191.34,728.77L196.80,725.89L202.26,728.77L201.22,722.69L205.64,718.38L199.53,717.49L196.80,711.96" fill="none" stroke="#808080" stroke-width="2.58" stroke-linejoin="miter" stroke-miterlimit="10"/><path d="M196.80,649.03L193.77,655.18L186.99,656.16L191.89,660.94L190.73,667.70L196.80,664.51L202.87,667.70L201.71,660.94L206.61,656.16L199.83,655.18L196.80,649.03M196.80,650.06L194.07,655.59L187.96,656.48L192.38,660.79L191.34,666.87L196.80,664.00L202.26,666.87L201.22,660.79L205.64,656.48L199.53,655.59L196.80,650.06" fill="none" stroke="#808080" stroke-width="2.58" stroke-linejoin="miter" stroke-miterlimit="10"/><path d="M196.80,587.13L193.77,593.28L186.99,594.26L191.89,599.04L190.73,605.80L196.80,602.61L202.87,605.80L201.71,599.04L206.61,594.26L199.83,593.28L196.80,587.13M196.80,588.16L194.07,593.69L187.96,594.58L192.38,598.89L191.34,604.97L196.80,602.10L202.26,604.97L201.22,598.89L205.64,594.58L199.53,593.69L196.80,588.16" fill="none" stroke="#808080" stroke-width="2.58" stroke-linejoin="miter" stroke-miterlimit="10"/><path d="M212.20,865.68L209.17,871.83L202.39,872.81L207.29,877.59L206.13,884.35L212.20,881.16L218.27,884.35L217.11,877.59L222.01,872.81L215.23,871.83L212.20,865.68M212.20,866.71L209.47,872.24L203.36,873.13L207.78,877.44L206.74,883.52L212.20,880.64L217.66,883.52L216.62,877.44L221.04,873.13L214.93,872.24L212.20,866.71" fill="none" stroke="#808080" stroke-width="2.58" stroke-linejoin="miter" stroke-miterlimit="10"/><path d="M212.20,803.78L209.17,809.93L202.39,810.91L207.29,815.69L206.13,822.45L212.20,819.26L218.27,822.45L217.11,815.69L222.01,810.91L215.23,809.93L212.20,803.78M212.20,804.81L209.47,810.34L203.36,811.23L207.78,815.54L206.74,821.62L212.20,818.75L217.66,821.62L216.62,815.54L221.04,811.23L214.93,810.34L212.20,804.81" fill="none" stroke="#808080" stroke-width="2.58" stroke-linejoin="miter" stroke-miterlimit="10"/><path d="M212.20,741.88L209.17,748.03L202.39,749.01L207.29,753.79L206.13,760.55L212.20,757.36L218.27,760.55L217.11,753.79L222.01,749.01L215.23,748.03L212.20,741.88M212.20,742.91L209.47,748.44L203.36,749.33L207.78,753.64L206.74,759.72L212.20,756.85L217.66,759.72L216.62,753.64L221.04,749.33L214.93,748.44L212.20,742.91" fill="none" stroke="#808080" stroke-width="2.58" stroke-linejoin="miter" stroke-miterlimit="10"/><path d="M212.20,679.98L209.17,686.13L202.39,687.11L207.29,691.89L206.13,698.65L212.20,695.46L218.27,698.65L217.11,691.89L222.01,687.11L215.23,686.13L212.20,679.98M212.20,681.01L209.47,686.54L203.36,687.43L207.78,691.74L206.74,697.82L212.20,694.94L217.66,697.82L216.62,691.74L221.04,687.43L214.93,686.54L212.20,681.01" fill="none" stroke="#808080" stroke-width="2.58" stroke-linejoin="miter" stroke-miterlimit="10"/><path d="M212.20,618.08L209.17,624.23L202.39,625.21L207.29,629.99L206.13,636.75L212.20,633.56L218.27,636.75L217.11,629.99L222.01,625.21L215.23,624.23L212.20,618.08M212.20,619.11L209.47,624.64L203.36,625.53L207.78,629.84L206.74,635.92L212.20,633.04L217.66,635.92L216.62,629.84L221.04,625.53L214.93,624.64L212.20,619.11" fill="none" stroke="#808080" stroke-width="2.58" stroke-linejoin="miter" stroke-miterlimit="10"/><path d="M212.20,556.18L209.17,562.33L202.39,563.31L207.29,568.09L206.13,574.85L212.20,571.66L218.27,574.85L217.11,568.09L222.01,563.31L215.23,562.33L212.20,556.18M212.20,557.21L209.47,562.74L203.36,563.63L207.78,567.94L206.74,574.02L212.20,571.14L217.66,574.02L216.62,567.94L221.04,563.63L214.93,562.74L212.20,557.21" fill="none" stroke="#808080" stroke-width="2.58" stroke-linejoin="miter" stroke-miterlimit="10"/><path d="M227.60,896.63L224.57,902.78L217.79,903.76L222.69,908.54L221.53,915.30L227.60,912.11L233.67,915.30L232.51,908.54L237.41,903.76L230.63,902.78L227.60,896.63M227.60,897.66L224.87,903.19L218.76,904.08L223.18,908.39L222.14,914.47L227.60,911.60L233.06,914.47L232.02,908.39L236.44,904.08L230.33,903.19L227.60,897.66" fill="none" stroke="#808080" stroke-width="2.58" stroke-linejoin="miter" stroke-miterlimit="10"/><path d="M227.60,834.73L224.57,840.88L217.79,841.86L222.69,846.64L221.53,853.40L227.60,850.21L233.67,853.40L232.51,846.64L237.41,841.86L230.63,840.88L227.60,834.73M227.60,835.76L224.87,841.29L218.76,842.18L223.18,846.49L222.14,852.57L227.60,849.69L233.06,852.57L232.02,846.49L236.44,842.18L230.33,841.29L227.60,835.76" fill="none" stroke="#808080" stroke-width="2.58" stroke-linejoin="miter" stroke-miterlimit="10"/><path d="M227.60,772.83L224.57,778.98L217.79,779.96L222.69,784.74L221.53,791.50L227.60,788.31L233.67,791.50L232.51,784.74L237.41,779.96L230.63,778.98L227.60,772.83M227.60,773.86L224.87,779.39L218.76,780.28L223.18,784.59L222.14,790.67L227.60,787.79L233.06,790.67L232.02,784.59L236.44,780.28L230.33,779.39L227.60,773.86" fill="none" stroke="#808080" stroke-width="2.58" stroke-linejoin="miter" stroke-miterlimit="10"/><path d="M227.60,710.93L224.57,717.08L217.79,718.06L222.69,722.84L221.53,729.60L227.60,726.41L233.67,729.60L232.51,722.84L237.41,718.06L230.63,717.08L227.60,710.93M227.60,711.96L224.87,717.49L218.76,718.38L223.18,722.69L222.14,728.77L227.60,725.89L233.06,728.77L232.02,722.69L236.44,718.38L230.33,717.49L227.60,711.96" fill="none" stroke="#808080" stroke-width="2.58" stroke-linejoin="miter" stroke-miterlimit="10"/><path d="M227.60,649.03L224.57,655.18L217.79,656.16L222.69,660.94L221.53,667.70L227.60,664.51L233.67,667.70L232.51,660.94L237.41,656.16L230.63,655.18L227.60,649.03M227.60,650.06L224.87,655.59L218.76,656.48L223.18,660.79L222.14,666.87L227.60,664.00L233.06,666.87L232.02,660.79L236.44,656.48L230.33,655.59L227.60,650.06" fill="none" stroke="#808080" stroke-width="2.58" stroke-linejoin="miter" stroke-miterlimit="10"/><path d="M227.60,587.13L224.57,593.28L217.79,594.26L222.69,599.04L221.53,605.80L227.60,602.61L233.67,605.80L232.51,599.04L237.41,594.26L230.63,593.28L227.60,587.13M227.60,588.16L224.87,593.69L218.76,594.58L223.18,598.89L222.14,604.97L227.60,602.10L233.06,604.97L232.02,598.89L236.44,594.58L230.33,593.69L227.60,588.16" fill="none" stroke="#808080" stroke-width="2.58" stroke-linejoin="miter" stroke-miterlimit="10"/></g><rect x="162.15" y="602.00" width="38.10" height="287.50" fill="none" stroke="#808080" stroke-width="2.58"/><rect x="238.40" y="807.00" width="38.10" height="82.50" fill="#8fbbd9"/><g clip-path="url(#c16)"><path d="M212.20,865.68L209.17,871.83L202.39,872.81L207.29,877.59L206.13,884.35L212.20,881.16L218.27,884.35L217.11,877.59L222.01,872.81L215.23,871.83L212.20,865.68M212.20,866.71L209.47,872.24L203.36,873.13L207.78,877.44L206.74,883.52L212.20,880.64L217.66,883.52L216.62,877.44L221.04,873.13L214.93,872.24L212.20,866.71" fill="none" stroke="#808080" stroke-width="2.58" stroke-linejoin="miter" stroke-miterlimit="10"/><path d="M212.20,803.78L209.17,809.93L202.39,810.91L207.29,815.69L206.13,822.45L212.20,819.26L218.27,822.45L217.11,815.69L222.01,810.91L215.23,809.93L212.20,803.78M212.20,804.81L209.47,810.34L203.36,811.23L207.78,815.54L206.74,821.62L212.20,818.75L217.66,821.62L216.62,815.54L221.04,811.23L214.93,810.34L212.20,804.81" fill="none" stroke="#808080" stroke-width="2.58" stroke-linejoin="miter" stroke-miterlimit="10"/><path d="M227.60,896.63L224.57,902.78L217.79,903.76L222.69,908.54L221.53,915.30L227.60,912.11L233.67,915.30L232.51,908.54L237.41,903.76L230.63,902.78L227.60,896.63M227.60,897.66L224.87,903.19L218.76,904.08L223.18,908.39L222.14,914.47L227.60,911.60L233.06,914.47L232.02,908.39L236.44,904.08L230.33,903.19L227.60,897.66" fill="none" stroke="#808080" stroke-width="2.58" stroke-linejoin="miter" stroke-miterlimit="10"/><path d="M227.60,834.73L224.57,840.88L217.79,841.86L222.69,846.64L221.53,853.40L227.60,850.21L233.67,853.40L232.51,846.64L237.41,841.86L230.63,840.88L227.60,834.73M227.60,835.76L224.87,841.29L218.76,842.18L223.18,846.49L222.14,852.57L227.60,849.69L233.06,852.57L232.02,846.49L236.44,842.18L230.33,841.29L227.60,835.76" fill="none" stroke="#808080" stroke-width="2.58" stroke-linejoin="miter" stroke-miterlimit="10"/><path d="M227.60,772.83L224.57,778.98L217.79,779.96L222.69,784.74L221.53,791.50L227.60,788.31L233.67,791.50L232.51,784.74L237.41,779.96L230.63,778.98L227.60,772.83M227.60,773.86L224.87,779.39L218.76,780.28L223.18,784.59L222.14,790.67L227.60,787.79L233.06,790.67L232.02,784.59L236.44,780.28L230.33,779.39L227.60,773.86" fill="none" stroke="#808080" stroke-width="2.58" stroke-linejoin="miter" stroke-miterlimit="10"/><path d="M243.00,865.68L239.97,871.83L233.19,872.81L238.09,877.59L236.93,884.35L243.00,881.16L249.07,884.35L247.91,877.59L252.81,872.81L246.03,871.83L243.00,865.68M243.00,866.71L240.27,872.24L234.16,873.13L238.58,877.44L237.54,883.52L243.00,880.64L248.46,883.52L247.42,877.44L251.84,873.13L245.73,872.24L243.00,866.71" fill="none" stroke="#808080" stroke-width="2.58" stroke-linejoin="miter" stroke-miterlimit="10"/><path d="M243.00,803.78L239.97,809.93L233.19,810.91L238.09,815.69L236.93,822.45L243.00,819.26L249.07,822.45L247.91,815.69L252.81,810.91L246.03,809.93L243.00,803.78M243.00,804.81L240.27,810.34L234.16,811.23L238.58,815.54L237.54,821.62L243.00,818.75L248.46,821.62L247.42,815.54L251.84,811.23L245.73,810.34L243.00,804.81" fill="none" stroke="#808080" stroke-width="2.58" stroke-linejoin="miter" stroke-miterlimit="10"/><path d="M258.40,896.63L255.37,902.78L248.59,903.76L253.49,908.54L252.33,915.30L258.40,912.11L264.47,915.30L263.31,908.54L268.21,903.76L261.43,902.78L258.40,896.63M258.40,897.66L255.67,903.19L249.56,904.08L253.98,908.39L252.94,914.47L258.40,911.60L263.86,914.47L262.82,908.39L267.24,904.08L261.13,903.19L258.40,897.66" fill="none" stroke="#808080" stroke-width="2.58" stroke-linejoin="miter" stroke-miterlimit="10"/><path d="M258.40,834.73L255.37,840.88L248.59,841.86L253.49,846.64L252.33,853.40L258.40,850.21L264.47,853.40L263.31,846.64L268.21,841.86L261.43,840.88L258.40,834.73M258.40,835.76L255.67,841.29L249.56,842.18L253.98,846.49L252.94,852.57L258.40,849.69L263.86,852.57L262.82,846.49L267.24,842.18L261.13,841.29L258.40,835.76" fill="none" stroke="#808080" stroke-width="2.58" stroke-linejoin="miter" stroke-miterlimit="10"/><path d="M258.40,772.83L255.37,778.98L248.59,779.96L253.49,784.74L252.33,791.50L258.40,788.31L264.47,791.50L263.31,784.74L268.21,779.96L261.43,778.98L258.40,772.83M258.40,773.86L255.67,779.39L249.56,780.28L253.98,784.59L252.94,790.67L258.40,787.79L263.86,790.67L262.82,784.59L267.24,780.28L261.13,779.39L258.40,773.86" fill="none" stroke="#808080" stroke-width="2.58" stroke-linejoin="miter" stroke-miterlimit="10"/><path d="M273.80,865.68L270.77,871.83L263.99,872.81L268.89,877.59L267.73,884.35L273.80,881.16L279.87,884.35L278.71,877.59L283.61,872.81L276.83,871.83L273.80,865.68M273.80,866.71L271.07,872.24L264.96,873.13L269.38,877.44L268.34,883.52L273.80,880.64L279.26,883.52L278.22,877.44L282.64,873.13L276.53,872.24L273.80,866.71" fill="none" stroke="#808080" stroke-width="2.58" stroke-linejoin="miter" stroke-miterlimit="10"/><path d="M273.80,803.78L270.77,809.93L263.99,810.91L268.89,815.69L267.73,822.45L273.80,819.26L279.87,822.45L278.71,815.69L283.61,810.91L276.83,809.93L273.80,803.78M273.80,804.81L271.07,810.34L264.96,811.23L269.38,815.54L268.34,821.62L273.80,818.75L279.26,821.62L278.22,815.54L282.64,811.23L276.53,810.34L273.80,804.81" fill="none" stroke="#808080" stroke-width="2.58" stroke-linejoin="miter" stroke-miterlimit="10"/><path d="M289.20,896.63L286.17,902.78L279.39,903.76L284.29,908.54L283.13,915.30L289.20,912.11L295.27,915.30L294.11,908.54L299.01,903.76L292.23,902.78L289.20,896.63M289.20,897.66L286.47,903.19L280.36,904.08L284.78,908.39L283.74,914.47L289.20,911.60L294.66,914.47L293.62,908.39L298.04,904.08L291.93,903.19L289.20,897.66" fill="none" stroke="#808080" stroke-width="2.58" stroke-linejoin="miter" stroke-miterlimit="10"/><path d="M289.20,834.73L286.17,840.88L279.39,841.86L284.29,846.64L283.13,853.40L289.20,850.21L295.27,853.40L294.11,846.64L299.01,841.86L292.23,840.88L289.20,834.73M289.20,835.76L286.47,841.29L280.36,842.18L284.78,846.49L283.74,852.57L289.20,849.69L294.66,852.57L293.62,846.49L298.04,842.18L291.93,841.29L289.20,835.76" fill="none" stroke="#808080" stroke-width="2.58" stroke-linejoin="miter" stroke-miterlimit="10"/><path d="M289.20,772.83L286.17,778.98L279.39,779.96L284.29,784.74L283.13,791.50L289.20,788.31L295.27,791.50L294.11,784.74L299.01,779.96L292.23,778.98L289.20,772.83M289.20,773.86L286.47,779.39L280.36,780.28L284.78,784.59L283.74,790.67L289.20,787.79L294.66,790.67L293.62,784.59L298.04,780.28L291.93,779.39L289.20,773.86" fill="none" stroke="#808080" stroke-width="2.58" stroke-linejoin="miter" stroke-miterlimit="10"/></g><rect x="238.40" y="807.00" width="38.10" height="82.50" fill="none" stroke="#808080" stroke-width="2.58"/><rect x="314.65" y="834.30" width="38.10" height="55.20" fill="#8fbbd9"/><g clip-path="url(#c17)"><path d="M289.20,896.63L286.17,902.78L279.39,903.76L284.29,908.54L283.13,915.30L289.20,912.11L295.27,915.30L294.11,908.54L299.01,903.76L292.23,902.78L289.20,896.63M289.20,897.66L286.47,903.19L280.36,904.08L284.78,908.39L283.74,914.47L289.20,911.60L294.66,914.47L293.62,908.39L298.04,904.08L291.93,903.19L289.20,897.66" fill="none" stroke="#808080" stroke-width="2.58" stroke-linejoin="miter" stroke-miterlimit="10"/><path d="M289.20,834.73L286.17,840.88L279.39,841.86L284.29,846.64L283.13,853.40L289.20,850.21L295.27,853.40L294.11,846.64L299.01,841.86L292.23,840.88L289.20,834.73M289.20,835.76L286.47,841.29L280.36,842.18L284.78,846.49L283.74,852.57L289.20,849.69L294.66,852.57L293.62,846.49L298.04,842.18L291.93,841.29L289.20,835.76" fill="none" stroke="#808080" stroke-width="2.58" stroke-linejoin="miter" stroke-miterlimit="10"/><path d="M304.60,865.68L301.57,871.83L294.79,872.81L299.69,877.59L298.53,884.35L304.60,881.16L310.67,884.35L309.51,877.59L314.41,872.81L307.63,871.83L304.60,865.68M304.60,866.71L301.87,872.24L295.76,873.13L300.18,877.44L299.14,883.52L304.60,880.64L310.06,883.52L309.02,877.44L313.44,873.13L307.33,872.24L304.60,866.71" fill="none" stroke="#808080" stroke-width="2.58" stroke-linejoin="miter" stroke-miterlimit="10"/><path d="M304.60,803.78L301.57,809.93L294.79,810.91L299.69,815.69L298.53,822.45L304.60,819.26L310.67,822.45L309.51,815.69L314.41,810.91L307.63,809.93L304.60,803.78M304.60,804.81L301.87,810.34L295.76,811.23L300.18,815.54L299.14,821.62L304.60,818.75L310.06,821.62L309.02,815.54L313.44,811.23L307.33,810.34L304.60,804.81" fill="none" stroke="#808080" stroke-width="2.58" stroke-linejoin="miter" stroke-miterlimit="10"/><path d="M320.00,896.63L316.97,902.78L310.19,903.76L315.09,908.54L313.93,915.30L320.00,912.11L326.07,915.30L324.91,908.54L329.81,903.76L323.03,902.78L320.00,896.63M320.00,897.66L317.27,903.19L311.16,904.08L315.58,908.39L314.54,914.47L320.00,911.60L325.46,914.47L324.42,908.39L328.84,904.08L322.73,903.19L320.00,897.66" fill="none" stroke="#808080" stroke-width="2.58" stroke-linejoin="miter" stroke-miterlimit="10"/><path d="M320.00,834.73L316.97,840.88L310.19,841.86L315.09,846.64L313.93,853.40L320.00,850.21L326.07,853.40L324.91,846.64L329.81,841.86L323.03,840.88L320.00,834.73M320.00,835.76L317.27,841.29L311.16,842.18L315.58,846.49L314.54,852.57L320.00,849.69L325.46,852.57L324.42,846.49L328.84,842.18L322.73,841.29L320.00,835.76" fill="none" stroke="#808080" stroke-width="2.58" stroke-linejoin="miter" stroke-miterlimit="10"/><path d="M335.40,865.68L332.37,871.83L325.59,872.81L330.49,877.59L329.33,884.35L335.40,881.16L341.47,884.35L340.31,877.59L345.21,872.81L338.43,871.83L335.40,865.68M335.40,866.71L332.67,872.24L326.56,873.13L330.98,877.44L329.94,883.52L335.40,880.64L340.86,883.52L339.82,877.44L344.24,873.13L338.13,872.24L335.40,866.71" fill="none" stroke="#808080" stroke-width="2.58" stroke-linejoin="miter" stroke-miterlimit="10"/><path d="M335.40,803.78L332.37,809.93L325.59,810.91L330.49,815.69L329.33,822.45L335.40,819.26L341.47,822.45L340.31,815.69L345.21,810.91L338.43,809.93L335.40,803.78M335.40,804.81L332.67,810.34L326.56,811.23L330.98,815.54L329.94,821.62L335.40,818.75L340.86,821.62L339.82,815.54L344.24,811.23L338.13,810.34L335.40,804.81" fill="none" stroke="#808080" stroke-width="2.58" stroke-linejoin="miter" stroke-miterlimit="10"/><path d="M350.80,896.63L347.77,902.78L340.99,903.76L345.89,908.54L344.73,915.30L350.80,912.11L356.87,915.30L355.71,908.54L360.61,903.76L353.83,902.78L350.80,896.63M350.80,897.66L348.07,903.19L341.96,904.08L346.38,908.39L345.34,914.47L350.80,911.60L356.26,914.47L355.22,908.39L359.64,904.08L353.53,903.19L350.80,897.66" fill="none" stroke="#808080" stroke-width="2.58" stroke-linejoin="miter" stroke-miterlimit="10"/><path d="M350.80,834.73L347.77,840.88L340.99,841.86L345.89,846.64L344.73,853.40L350.80,850.21L356.87,853.40L355.71,846.64L360.61,841.86L353.83,840.88L350.80,834.73M350.80,835.76L348.07,841.29L341.96,842.18L346.38,846.49L345.34,852.57L350.80,849.69L356.26,852.57L355.22,846.49L359.64,842.18L353.53,841.29L350.80,835.76" fill="none" stroke="#808080" stroke-width="2.58" stroke-linejoin="miter" stroke-miterlimit="10"/><path d="M366.20,865.68L363.17,871.83L356.39,872.81L361.29,877.59L360.13,884.35L366.20,881.16L372.27,884.35L371.11,877.59L376.01,872.81L369.23,871.83L366.20,865.68M366.20,866.71L363.47,872.24L357.36,873.13L361.78,877.44L360.74,883.52L366.20,880.64L371.66,883.52L370.62,877.44L375.04,873.13L368.93,872.24L366.20,866.71" fill="none" stroke="#808080" stroke-width="2.58" stroke-linejoin="miter" stroke-miterlimit="10"/><path d="M366.20,803.78L363.17,809.93L356.39,810.91L361.29,815.69L360.13,822.45L366.20,819.26L372.27,822.45L371.11,815.69L376.01,810.91L369.23,809.93L366.20,803.78M366.20,804.81L363.47,810.34L357.36,811.23L361.78,815.54L360.74,821.62L366.20,818.75L371.66,821.62L370.62,815.54L375.04,811.23L368.93,810.34L366.20,804.81" fill="none" stroke="#808080" stroke-width="2.58" stroke-linejoin="miter" stroke-miterlimit="10"/></g><rect x="314.65" y="834.30" width="38.10" height="55.20" fill="none" stroke="#808080" stroke-width="2.58"/><rect x="390.90" y="875.20" width="38.10" height="14.30" fill="#8fbbd9"/><g clip-path="url(#c18)"><path d="M366.20,865.68L363.17,871.83L356.39,872.81L361.29,877.59L360.13,884.35L366.20,881.16L372.27,884.35L371.11,877.59L376.01,872.81L369.23,871.83L366.20,865.68M366.20,866.71L363.47,872.24L357.36,873.13L361.78,877.44L360.74,883.52L366.20,880.64L371.66,883.52L370.62,877.44L375.04,873.13L368.93,872.24L366.20,866.71" fill="none" stroke="#808080" stroke-width="2.58" stroke-linejoin="miter" stroke-miterlimit="10"/><path d="M381.60,896.63L378.57,902.78L371.79,903.76L376.69,908.54L375.53,915.30L381.60,912.11L387.67,915.30L386.51,908.54L391.41,903.76L384.63,902.78L381.60,896.63M381.60,897.66L378.87,903.19L372.76,904.08L377.18,908.39L376.14,914.47L381.60,911.60L387.06,914.47L386.02,908.39L390.44,904.08L384.33,903.19L381.60,897.66" fill="none" stroke="#808080" stroke-width="2.58" stroke-linejoin="miter" stroke-miterlimit="10"/><path d="M381.60,834.73L378.57,840.88L371.79,841.86L376.69,846.64L375.53,853.40L381.60,850.21L387.67,853.40L386.51,846.64L391.41,841.86L384.63,840.88L381.60,834.73M381.60,835.76L378.87,841.29L372.76,842.18L377.18,846.49L376.14,852.57L381.60,849.69L387.06,852.57L386.02,846.49L390.44,842.18L384.33,841.29L381.60,835.76" fill="none" stroke="#808080" stroke-width="2.58" stroke-linejoin="miter" stroke-miterlimit="10"/><path d="M397.00,865.68L393.97,871.83L387.19,872.81L392.09,877.59L390.93,884.35L397.00,881.16L403.07,884.35L401.91,877.59L406.81,872.81L400.03,871.83L397.00,865.68M397.00,866.71L394.27,872.24L388.16,873.13L392.58,877.44L391.54,883.52L397.00,880.64L402.46,883.52L401.42,877.44L405.84,873.13L399.73,872.24L397.00,866.71" fill="none" stroke="#808080" stroke-width="2.58" stroke-linejoin="miter" stroke-miterlimit="10"/><path d="M412.40,896.63L409.37,902.78L402.59,903.76L407.49,908.54L406.33,915.30L412.40,912.11L418.47,915.30L417.31,908.54L422.21,903.76L415.43,902.78L412.40,896.63M412.40,897.66L409.67,903.19L403.56,904.08L407.98,908.39L406.94,914.47L412.40,911.60L417.86,914.47L416.82,908.39L421.24,904.08L415.13,903.19L412.40,897.66" fill="none" stroke="#808080" stroke-width="2.58" stroke-linejoin="miter" stroke-miterlimit="10"/><path d="M412.40,834.73L409.37,840.88L402.59,841.86L407.49,846.64L406.33,853.40L412.40,850.21L418.47,853.40L417.31,846.64L422.21,841.86L415.43,840.88L412.40,834.73M412.40,835.76L409.67,841.29L403.56,842.18L407.98,846.49L406.94,852.57L412.40,849.69L417.86,852.57L416.82,846.49L421.24,842.18L415.13,841.29L412.40,835.76" fill="none" stroke="#808080" stroke-width="2.58" stroke-linejoin="miter" stroke-miterlimit="10"/><path d="M427.80,865.68L424.77,871.83L417.99,872.81L422.89,877.59L421.73,884.35L427.80,881.16L433.87,884.35L432.71,877.59L437.61,872.81L430.83,871.83L427.80,865.68M427.80,866.71L425.07,872.24L418.96,873.13L423.38,877.44L422.34,883.52L427.80,880.64L433.26,883.52L432.22,877.44L436.64,873.13L430.53,872.24L427.80,866.71" fill="none" stroke="#808080" stroke-width="2.58" stroke-linejoin="miter" stroke-miterlimit="10"/><path d="M443.20,896.63L440.17,902.78L433.39,903.76L438.29,908.54L437.13,915.30L443.20,912.11L449.27,915.30L448.11,908.54L453.01,903.76L446.23,902.78L443.20,896.63M443.20,897.66L440.47,903.19L434.36,904.08L438.78,908.39L437.74,914.47L443.20,911.60L448.66,914.47L447.62,908.39L452.04,904.08L445.93,903.19L443.20,897.66" fill="none" stroke="#808080" stroke-width="2.58" stroke-linejoin="miter" stroke-miterlimit="10"/><path d="M443.20,834.73L440.17,840.88L433.39,841.86L438.29,846.64L437.13,853.40L443.20,850.21L449.27,853.40L448.11,846.64L453.01,841.86L446.23,840.88L443.20,834.73M443.20,835.76L440.47,841.29L434.36,842.18L438.78,846.49L437.74,852.57L443.20,849.69L448.66,852.57L447.62,846.49L452.04,842.18L445.93,841.29L443.20,835.76" fill="none" stroke="#808080" stroke-width="2.58" stroke-linejoin="miter" stroke-miterlimit="10"/></g><rect x="390.90" y="875.20" width="38.10" height="14.30" fill="none" stroke="#808080" stroke-width="2.58"/><rect x="467.15" y="876.40" width="38.10" height="13.10" fill="#8fbbd9"/><g clip-path="url(#c19)"><path d="M443.20,896.63L440.17,902.78L433.39,903.76L438.29,908.54L437.13,915.30L443.20,912.11L449.27,915.30L448.11,908.54L453.01,903.76L446.23,902.78L443.20,896.63M443.20,897.66L440.47,903.19L434.36,904.08L438.78,908.39L437.74,914.47L443.20,911.60L448.66,914.47L447.62,908.39L452.04,904.08L445.93,903.19L443.20,897.66" fill="none" stroke="#808080" stroke-width="2.58" stroke-linejoin="miter" stroke-miterlimit="10"/><path d="M443.20,834.73L440.17,840.88L433.39,841.86L438.29,846.64L437.13,853.40L443.20,850.21L449.27,853.40L448.11,846.64L453.01,841.86L446.23,840.88L443.20,834.73M443.20,835.76L440.47,841.29L434.36,842.18L438.78,846.49L437.74,852.57L443.20,849.69L448.66,852.57L447.62,846.49L452.04,842.18L445.93,841.29L443.20,835.76" fill="none" stroke="#808080" stroke-width="2.58" stroke-linejoin="miter" stroke-miterlimit="10"/><path d="M458.60,865.68L455.57,871.83L448.79,872.81L453.69,877.59L452.53,884.35L458.60,881.16L464.67,884.35L463.51,877.59L468.41,872.81L461.63,871.83L458.60,865.68M458.60,866.71L455.87,872.24L449.76,873.13L454.18,877.44L453.14,883.52L458.60,880.64L464.06,883.52L463.02,877.44L467.44,873.13L461.33,872.24L458.60,866.71" fill="none" stroke="#808080" stroke-width="2.58" stroke-linejoin="miter" stroke-miterlimit="10"/><path d="M474.00,896.63L470.97,902.78L464.19,903.76L469.09,908.54L467.93,915.30L474.00,912.11L480.07,915.30L478.91,908.54L483.81,903.76L477.03,902.78L474.00,896.63M474.00,897.66L471.27,903.19L465.16,904.08L469.58,908.39L468.54,914.47L474.00,911.60L479.46,914.47L478.42,908.39L482.84,904.08L476.73,903.19L474.00,897.66" fill="none" stroke="#808080" stroke-width="2.58" stroke-linejoin="miter" stroke-miterlimit="10"/><path d="M474.00,834.73L470.97,840.88L464.19,841.86L469.09,846.64L467.93,853.40L474.00,850.21L480.07,853.40L478.91,846.64L483.81,841.86L477.03,840.88L474.00,834.73M474.00,835.76L471.27,841.29L465.16,842.18L469.58,846.49L468.54,852.57L474.00,849.69L479.46,852.57L478.42,846.49L482.84,842.18L476.73,841.29L474.00,835.76" fill="none" stroke="#808080" stroke-width="2.58" stroke-linejoin="miter" stroke-miterlimit="10"/><path d="M489.40,865.68L486.37,871.83L479.59,872.81L484.49,877.59L483.33,884.35L489.40,881.16L495.47,884.35L494.31,877.59L499.21,872.81L492.43,871.83L489.40,865.68M489.40,866.71L486.67,872.24L480.56,873.13L484.98,877.44L483.94,883.52L489.40,880.64L494.86,883.52L493.82,877.44L498.24,873.13L492.13,872.24L489.40,866.71" fill="none" stroke="#808080" stroke-width="2.58" stroke-linejoin="miter" stroke-miterlimit="10"/><path d="M504.80,896.63L501.77,902.78L494.99,903.76L499.89,908.54L498.73,915.30L504.80,912.11L510.87,915.30L509.71,908.54L514.61,903.76L507.83,902.78L504.80,896.63M504.80,897.66L502.07,903.19L495.96,904.08L500.38,908.39L499.34,914.47L504.80,911.60L510.26,914.47L509.22,908.39L513.64,904.08L507.53,903.19L504.80,897.66" fill="none" stroke="#808080" stroke-width="2.58" stroke-linejoin="miter" stroke-miterlimit="10"/><path d="M504.80,834.73L501.77,840.88L494.99,841.86L499.89,846.64L498.73,853.40L504.80,850.21L510.87,853.40L509.71,846.64L514.61,841.86L507.83,840.88L504.80,834.73M504.80,835.76L502.07,841.29L495.96,842.18L500.38,846.49L499.34,852.57L504.80,849.69L510.26,852.57L509.22,846.49L513.64,842.18L507.53,841.29L504.80,835.76" fill="none" stroke="#808080" stroke-width="2.58" stroke-linejoin="miter" stroke-miterlimit="10"/><path d="M520.20,865.68L517.17,871.83L510.39,872.81L515.29,877.59L514.13,884.35L520.20,881.16L526.27,884.35L525.11,877.59L530.01,872.81L523.23,871.83L520.20,865.68M520.20,866.71L517.47,872.24L511.36,873.13L515.78,877.44L514.74,883.52L520.20,880.64L525.66,883.52L524.62,877.44L529.04,873.13L522.93,872.24L520.20,866.71" fill="none" stroke="#808080" stroke-width="2.58" stroke-linejoin="miter" stroke-miterlimit="10"/></g><rect x="467.15" y="876.40" width="38.10" height="13.10" fill="none" stroke="#808080" stroke-width="2.58"/><rect x="543.40" y="877.40" width="38.10" height="12.10" fill="#8fbbd9"/><g clip-path="url(#c20)"><path d="M520.20,865.68L517.17,871.83L510.39,872.81L515.29,877.59L514.13,884.35L520.20,881.16L526.27,884.35L525.11,877.59L530.01,872.81L523.23,871.83L520.20,865.68M520.20,866.71L517.47,872.24L511.36,873.13L515.78,877.44L514.74,883.52L520.20,880.64L525.66,883.52L524.62,877.44L529.04,873.13L522.93,872.24L520.20,866.71" fill="none" stroke="#808080" stroke-width="2.58" stroke-linejoin="miter" stroke-miterlimit="10"/><path d="M535.60,896.63L532.57,902.78L525.79,903.76L530.69,908.54L529.53,915.30L535.60,912.11L541.67,915.30L540.51,908.54L545.41,903.76L538.63,902.78L535.60,896.63M535.60,897.66L532.87,903.19L526.76,904.08L531.18,908.39L530.14,914.47L535.60,911.60L541.06,914.47L540.02,908.39L544.44,904.08L538.33,903.19L535.60,897.66" fill="none" stroke="#808080" stroke-width="2.58" stroke-linejoin="miter" stroke-miterlimit="10"/><path d="M535.60,834.73L532.57,840.88L525.79,841.86L530.69,846.64L529.53,853.40L535.60,850.21L541.67,853.40L540.51,846.64L545.41,841.86L538.63,840.88L535.60,834.73M535.60,835.76L532.87,841.29L526.76,842.18L531.18,846.49L530.14,852.57L535.60,849.69L541.06,852.57L540.02,846.49L544.44,842.18L538.33,841.29L535.60,835.76" fill="none" stroke="#808080" stroke-width="2.58" stroke-linejoin="miter" stroke-miterlimit="10"/><path d="M551.00,865.68L547.97,871.83L541.19,872.81L546.09,877.59L544.93,884.35L551.00,881.16L557.07,884.35L555.91,877.59L560.81,872.81L554.03,871.83L551.00,865.68M551.00,866.71L548.27,872.24L542.16,873.13L546.58,877.44L545.54,883.52L551.00,880.64L556.46,883.52L555.42,877.44L559.84,873.13L553.73,872.24L551.00,866.71" fill="none" stroke="#808080" stroke-width="2.58" stroke-linejoin="miter" stroke-miterlimit="10"/><path d="M566.40,896.63L563.37,902.78L556.59,903.76L561.49,908.54L560.33,915.30L566.40,912.11L572.47,915.30L571.31,908.54L576.21,903.76L569.43,902.78L566.40,896.63M566.40,897.66L563.67,903.19L557.56,904.08L561.98,908.39L560.94,914.47L566.40,911.60L571.86,914.47L570.82,908.39L575.24,904.08L569.13,903.19L566.40,897.66" fill="none" stroke="#808080" stroke-width="2.58" stroke-linejoin="miter" stroke-miterlimit="10"/><path d="M566.40,834.73L563.37,840.88L556.59,841.86L561.49,846.64L560.33,853.40L566.40,850.21L572.47,853.40L571.31,846.64L576.21,841.86L569.43,840.88L566.40,834.73M566.40,835.76L563.67,841.29L557.56,842.18L561.98,846.49L560.94,852.57L566.40,849.69L571.86,852.57L570.82,846.49L575.24,842.18L569.13,841.29L566.40,835.76" fill="none" stroke="#808080" stroke-width="2.58" stroke-linejoin="miter" stroke-miterlimit="10"/><path d="M581.80,865.68L578.77,871.83L571.99,872.81L576.89,877.59L575.73,884.35L581.80,881.16L587.87,884.35L586.71,877.59L591.61,872.81L584.83,871.83L581.80,865.68M581.80,866.71L579.07,872.24L572.96,873.13L577.38,877.44L576.34,883.52L581.80,880.64L587.26,883.52L586.22,877.44L590.64,873.13L584.53,872.24L581.80,866.71" fill="none" stroke="#808080" stroke-width="2.58" stroke-linejoin="miter" stroke-miterlimit="10"/><path d="M597.20,896.63L594.17,902.78L587.39,903.76L592.29,908.54L591.13,915.30L597.20,912.11L603.27,915.30L602.11,908.54L607.01,903.76L600.23,902.78L597.20,896.63M597.20,897.66L594.47,903.19L588.36,904.08L592.78,908.39L591.74,914.47L597.20,911.60L602.66,914.47L601.62,908.39L606.04,904.08L599.93,903.19L597.20,897.66" fill="none" stroke="#808080" stroke-width="2.58" stroke-linejoin="miter" stroke-miterlimit="10"/><path d="M597.20,834.73L594.17,840.88L587.39,841.86L592.29,846.64L591.13,853.40L597.20,850.21L603.27,853.40L602.11,846.64L607.01,841.86L600.23,840.88L597.20,834.73M597.20,835.76L594.47,841.29L588.36,842.18L592.78,846.49L591.74,852.57L597.20,849.69L602.66,852.57L601.62,846.49L606.04,842.18L599.93,841.29L597.20,835.76" fill="none" stroke="#808080" stroke-width="2.58" stroke-linejoin="miter" stroke-miterlimit="10"/></g><rect x="543.40" y="877.40" width="38.10" height="12.10" fill="none" stroke="#808080" stroke-width="2.58"/><rect x="619.65" y="889.50" width="38.10" height="0.40" fill="#8fbbd9"/><rect x="619.65" y="889.50" width="38.10" height="0.40" fill="none" stroke="#808080" stroke-width="2.58"/><rect x="178.95" y="553.35" width="4.5" height="98.20" fill="#000"/><rect x="173.40" y="552.00" width="15.6" height="2.7" fill="#000"/><rect x="173.40" y="650.20" width="15.6" height="2.7" fill="#000"/><rect x="255.20" y="783.10" width="4.5" height="47.30" fill="#000"/><rect x="249.65" y="781.75" width="15.6" height="2.7" fill="#000"/><rect x="249.65" y="829.05" width="15.6" height="2.7" fill="#000"/><rect x="331.45" y="828.35" width="4.5" height="12.30" fill="#000"/><rect x="325.90" y="827.00" width="15.6" height="2.7" fill="#000"/><rect x="325.90" y="839.30" width="15.6" height="2.7" fill="#000"/><rect x="407.70" y="870.35" width="4.5" height="9.30" fill="#000"/><rect x="402.15" y="869.00" width="15.6" height="2.7" fill="#000"/><rect x="402.15" y="878.30" width="15.6" height="2.7" fill="#000"/><rect x="483.95" y="867.55" width="4.5" height="18.10" fill="#000"/><rect x="478.40" y="866.20" width="15.6" height="2.7" fill="#000"/><rect x="478.40" y="884.30" width="15.6" height="2.7" fill="#000"/><rect x="560.20" y="861.35" width="4.5" height="32.30" fill="#000"/><rect x="554.65" y="860.00" width="15.6" height="2.7" fill="#000"/><rect x="554.65" y="892.30" width="15.6" height="2.7" fill="#000"/><rect x="636.45" y="883.35" width="4.5" height="13.55" fill="#000"/><rect x="630.90" y="882.00" width="15.6" height="2.7" fill="#000"/><rect x="630.90" y="895.55" width="15.6" height="2.7" fill="#000"/><path d="M181.20 914.10v9.04M257.45 914.10v9.04M333.70 914.10v9.04M409.95 914.10v9.04M486.20 914.10v9.04M562.45 914.10v9.04M638.70 914.10v9.04M143.10 889.50h-9.04M143.10 754.90h-9.04M143.10 620.20h-9.04" stroke="#000" stroke-width="2.1" fill="none"/><rect x="143.10" y="535.85" width="533.95" height="378.25" fill="none" stroke="#000" stroke-width="2.5"/><g><text transform="matrix(0.9874 0.0006 -0.0006 1 68.69 903.39)" font-size="38.65">0</text><text transform="matrix(0.9308 0.0006 -0.0006 1 91.12 903.24)" font-size="41.90">.</text><text transform="matrix(0.9874 0.0006 -0.0006 1 103.20 903.39)" font-size="38.65">0</text></g><g><text transform="matrix(0.9874 0.0006 -0.0006 1 68.69 768.79)" font-size="38.65">0</text><text transform="matrix(0.9308 0.0006 -0.0006 1 91.12 768.64)" font-size="41.90">.</text><text transform="matrix(0.9481 0.0006 -0.0006 1 103.54 768.64)" font-size="38.31">1</text></g><g><text transform="matrix(0.9874 0.0006 -0.0006 1 68.69 634.09)" font-size="38.65">0</text><text transform="matrix(0.9308 0.0006 -0.0006 1 91.12 633.94)" font-size="41.90">.</text><text transform="matrix(0.9542 0.0006 -0.0006 1 103.13 633.94)" font-size="38.44">2</text></g><g aria-label="TEC"><text transform="matrix(0.0006 -1.0304 1 0.0006 191.18 1002.89)" font-size="38.31">T</text><text transform="matrix(0.0006 -0.8800 1 0.0006 191.18 979.64)" font-size="38.31">E</text><text transform="matrix(0.0006 -0.8800 1 0.0006 191.32 956.78)" font-size="38.65">C</text></g><g aria-label="L1S4"><text transform="matrix(0.0006 -0.9701 1 0.0006 266.21 1021.60)" font-size="38.31">L</text><text transform="matrix(0.0006 -0.9226 1 0.0006 272.14 1000.74)" font-size="27.40">1</text><text transform="matrix(0.0006 -0.8800 1 0.0006 266.36 972.68)" font-size="38.65">S</text><text transform="matrix(0.0006 -0.9677 1 0.0006 272.14 949.07)" font-size="27.40">4</text></g><g aria-label="L2sig"><text transform="matrix(0.0006 -0.9701 1 0.0006 339.39 1021.60)" font-size="38.31">L</text><text transform="matrix(0.0006 -0.9325 1 0.0006 345.32 1001.04)" font-size="27.46">2</text><text transform="matrix(0.0006 -1.0038 1 0.0006 339.55 973.18)" font-size="37.73" font-style="italic">σ</text><text transform="matrix(0.0006 -1.1200 1 0.0006 345.13 950.18)" font-size="26.81" font-style="italic">ϕ</text></g><g aria-label="L1sig"><text transform="matrix(0.0006 -0.9701 1 0.0006 415.64 1021.60)" font-size="38.31">L</text><text transform="matrix(0.0006 -0.9226 1 0.0006 421.57 1000.74)" font-size="27.40">1</text><text transform="matrix(0.0006 -1.0038 1 0.0006 415.80 973.18)" font-size="37.73" font-style="italic">σ</text><text transform="matrix(0.0006 -1.1200 1 0.0006 421.38 950.18)" font-size="26.81" font-style="italic">ϕ</text></g><g aria-label="L1dphi"><text transform="matrix(0.0006 -0.9701 1 0.0006 495.60 1029.35)" font-size="38.31">L</text><text transform="matrix(0.0006 -0.9226 1 0.0006 501.54 1008.49)" font-size="27.40">1</text><text transform="matrix(0.0006 -1.0381 1 0.0006 495.60 981.66)" font-size="38.31">Δ</text><text transform="matrix(0.0006 -1.1200 1 0.0006 495.32 955.87)" font-size="37.54" font-style="italic">ϕ</text></g><g aria-label="L2S4"><text transform="matrix(0.0006 -0.9701 1 0.0006 571.21 1021.60)" font-size="38.31">L</text><text transform="matrix(0.0006 -0.9325 1 0.0006 577.14 1001.04)" font-size="27.46">2</text><text transform="matrix(0.0006 -0.8800 1 0.0006 571.36 972.68)" font-size="38.65">S</text><text transform="matrix(0.0006 -0.9677 1 0.0006 577.14 949.07)" font-size="27.40">4</text></g><g aria-label="L2dphi"><text transform="matrix(0.0006 -0.9701 1 0.0006 648.10 1029.35)" font-size="38.31">L</text><text transform="matrix(0.0006 -0.9325 1 0.0006 654.04 1008.79)" font-size="27.46">2</text><text transform="matrix(0.0006 -1.0381 1 0.0006 648.10 981.66)" font-size="38.31">Δ</text><text transform="matrix(0.0006 -1.1200 1 0.0006 647.82 955.87)" font-size="37.54" font-style="italic">ϕ</text></g><g><text transform="matrix(0.0006 -1.1200 1 0.0006 50.40 795.15)" font-size="37.99">f</text><text transform="matrix(0.0006 -1.0330 1 0.0006 50.55 782.59)" font-size="38.15">b</text><text transform="matrix(0.0006 -0.8800 1 0.0006 50.40 760.22)" font-size="38.31">E</text><text transform="matrix(0.0006 -0.9100 1 0.0006 50.55 736.50)" font-size="38.05">s</text><text transform="matrix(0.0006 -0.8800 1 0.0006 50.40 706.84)" font-size="38.31">P</text><text transform="matrix(0.0006 -0.8800 1 0.0006 50.40 685.25)" font-size="38.31">F</text><text transform="matrix(0.0006 -0.9941 1 0.0006 50.40 664.52)" font-size="38.31">I</text></g></g>
<g><rect x="885.45" y="606.15" width="38.10" height="307.95" fill="#8fbbd9"/><g clip-path="url(#c22)"><path d="M859.08 594.15V926.10M889.86 594.15V926.10M920.64 594.15V926.10M951.42 594.15V926.10M873.45 581.88H935.55M873.45 612.80H935.55M873.45 643.72H935.55M873.45 674.64H935.55M873.45 705.56H935.55M873.45 736.48H935.55M873.45 767.40H935.55M873.45 798.32H935.55M873.45 829.24H935.55M873.45 860.16H935.55M873.45 891.08H935.55M873.45 922.00H935.55M873.45 952.92H935.55" stroke="#808080" stroke-width="2.75" fill="none"/></g><rect x="885.45" y="606.15" width="38.10" height="307.95" fill="none" stroke="#808080" stroke-width="2.58"/><rect x="961.70" y="788.70" width="38.10" height="125.40" fill="#8fbbd9"/><g clip-path="url(#c23)"><path d="M920.64 776.70V926.10M951.42 776.70V926.10M982.20 776.70V926.10M1012.98 776.70V926.10M949.70 767.40H1011.80M949.70 798.32H1011.80M949.70 829.24H1011.80M949.70 860.16H1011.80M949.70 891.08H1011.80M949.70 922.00H1011.80M949.70 952.92H1011.80" stroke="#808080" stroke-width="2.75" fill="none"/></g><rect x="961.70" y="788.70" width="38.10" height="125.40" fill="none" stroke="#808080" stroke-width="2.58"/><rect x="1037.95" y="857.20" width="38.10" height="56.90" fill="#8fbbd9"/><g clip-path="url(#c24)"><path d="M1012.98 845.20V926.10M1043.76 845.20V926.10M1074.54 845.20V926.10M1105.32 845.20V926.10M1025.95 829.24H1088.05M1025.95 860.16H1088.05M1025.95 891.08H1088.05M1025.95 922.00H1088.05M1025.95 952.92H1088.05" stroke="#808080" stroke-width="2.75" fill="none"/></g><rect x="1037.95" y="857.20" width="38.10" height="56.90" fill="none" stroke="#808080" stroke-width="2.58"/><rect x="1114.20" y="858.30" width="38.10" height="55.80" fill="#8fbbd9"/><g clip-path="url(#c25)"><path d="M1074.54 846.30V926.10M1105.32 846.30V926.10M1136.10 846.30V926.10M1166.88 846.30V926.10M1102.20 829.24H1164.30M1102.20 860.16H1164.30M1102.20 891.08H1164.30M1102.20 922.00H1164.30M1102.20 952.92H1164.30" stroke="#808080" stroke-width="2.75" fill="none"/></g><rect x="1114.20" y="858.30" width="38.10" height="55.80" fill="none" stroke="#808080" stroke-width="2.58"/><rect x="1190.45" y="865.70" width="38.10" height="48.40" fill="#8fbbd9"/><g clip-path="url(#c26)"><path d="M1166.88 853.70V926.10M1197.66 853.70V926.10M1228.44 853.70V926.10M1259.22 853.70V926.10M1178.45 829.24H1240.55M1178.45 860.16H1240.55M1178.45 891.08H1240.55M1178.45 922.00H1240.55M1178.45 952.92H1240.55" stroke="#808080" stroke-width="2.75" fill="none"/></g><rect x="1190.45" y="865.70" width="38.10" height="48.40" fill="none" stroke="#808080" stroke-width="2.58"/><rect x="1266.70" y="890.20" width="38.10" height="23.90" fill="#8fbbd9"/><g clip-path="url(#c27)"><path d="M1228.44 878.20V926.10M1259.22 878.20V926.10M1290.00 878.20V926.10M1320.78 878.20V926.10M1254.70 860.16H1316.80M1254.70 891.08H1316.80M1254.70 922.00H1316.80M1254.70 952.92H1316.80" stroke="#808080" stroke-width="2.75" fill="none"/></g><rect x="1266.70" y="890.20" width="38.10" height="23.90" fill="none" stroke="#808080" stroke-width="2.58"/><rect x="1342.95" y="891.70" width="38.10" height="22.40" fill="#8fbbd9"/><g clip-path="url(#c28)"><path d="M1320.78 879.70V926.10M1351.56 879.70V926.10M1382.34 879.70V926.10M1413.12 879.70V926.10M1330.95 860.16H1393.05M1330.95 891.08H1393.05M1330.95 922.00H1393.05M1330.95 952.92H1393.05" stroke="#808080" stroke-width="2.75" fill="none"/></g><rect x="1342.95" y="891.70" width="38.10" height="22.40" fill="none" stroke="#808080" stroke-width="2.58"/><rect x="902.25" y="553.85" width="4.5" height="104.60" fill="#000"/><rect x="896.70" y="552.50" width="15.6" height="2.7" fill="#000"/><rect x="896.70" y="657.10" width="15.6" height="2.7" fill="#000"/><rect x="978.50" y="778.05" width="4.5" height="21.40" fill="#000"/><rect x="972.95" y="776.70" width="15.6" height="2.7" fill="#000"/><rect x="972.95" y="798.10" width="15.6" height="2.7" fill="#000"/><rect x="1054.75" y="823.75" width="4.5" height="67.80" fill="#000"/><rect x="1049.20" y="822.40" width="15.6" height="2.7" fill="#000"/><rect x="1049.20" y="890.20" width="15.6" height="2.7" fill="#000"/><rect x="1131.00" y="834.65" width="4.5" height="48.70" fill="#000"/><rect x="1125.45" y="833.30" width="15.6" height="2.7" fill="#000"/><rect x="1125.45" y="882.00" width="15.6" height="2.7" fill="#000"/><rect x="1207.25" y="849.85" width="4.5" height="31.80" fill="#000"/><rect x="1201.70" y="848.50" width="15.6" height="2.7" fill="#000"/><rect x="1201.70" y="880.30" width="15.6" height="2.7" fill="#000"/><rect x="1283.50" y="873.25" width="4.5" height="34.40" fill="#000"/><rect x="1277.95" y="871.90" width="15.6" height="2.7" fill="#000"/><rect x="1277.95" y="906.30" width="15.6" height="2.7" fill="#000"/><rect x="1359.75" y="883.10" width="4.5" height="17.55" fill="#000"/><rect x="1354.20" y="881.75" width="15.6" height="2.7" fill="#000"/><rect x="1354.20" y="899.30" width="15.6" height="2.7" fill="#000"/><path d="M904.50 914.10v9.04M980.75 914.10v9.04M1057.00 914.10v9.04M1133.25 914.10v9.04M1209.50 914.10v9.04M1285.75 914.10v9.04M1362.00 914.10v9.04M866.40 914.10h-9.04M866.40 798.10h-9.04M866.40 682.10h-9.04M866.40 566.10h-9.04" stroke="#000" stroke-width="2.1" fill="none"/><rect x="866.40" y="535.85" width="533.60" height="378.25" fill="none" stroke="#000" stroke-width="2.5"/><g><text transform="matrix(0.9874 0.0006 -0.0006 1 768.98 927.99)" font-size="38.65">0</text><text transform="matrix(0.9308 0.0006 -0.0006 1 791.41 927.84)" font-size="41.90">.</text><text transform="matrix(0.9874 0.0006 -0.0006 1 803.49 927.99)" font-size="38.65">0</text><text transform="matrix(0.9874 0.0006 -0.0006 1 826.50 927.99)" font-size="38.65">0</text></g><g><text transform="matrix(0.9874 0.0006 -0.0006 1 768.98 811.99)" font-size="38.65">0</text><text transform="matrix(0.9308 0.0006 -0.0006 1 791.41 811.84)" font-size="41.90">.</text><text transform="matrix(0.9874 0.0006 -0.0006 1 803.49 811.99)" font-size="38.65">0</text><text transform="matrix(0.9347 0.0006 -0.0006 1 826.95 811.99)" font-size="38.53">5</text></g><g><text transform="matrix(0.9874 0.0006 -0.0006 1 768.98 695.99)" font-size="38.65">0</text><text transform="matrix(0.9308 0.0006 -0.0006 1 791.41 695.84)" font-size="41.90">.</text><text transform="matrix(0.9481 0.0006 -0.0006 1 803.83 695.84)" font-size="38.31">1</text><text transform="matrix(0.9874 0.0006 -0.0006 1 826.50 695.99)" font-size="38.65">0</text></g><g><text transform="matrix(0.9874 0.0006 -0.0006 1 768.98 579.99)" font-size="38.65">0</text><text transform="matrix(0.9308 0.0006 -0.0006 1 791.41 579.84)" font-size="41.90">.</text><text transform="matrix(0.9481 0.0006 -0.0006 1 803.83 579.84)" font-size="38.31">1</text><text transform="matrix(0.9347 0.0006 -0.0006 1 826.95 579.99)" font-size="38.53">5</text></g><g aria-label="L1S4"><text transform="matrix(0.0006 -0.9701 1 0.0006 913.26 1021.60)" font-size="38.31">L</text><text transform="matrix(0.0006 -0.9226 1 0.0006 919.19 1000.74)" font-size="27.40">1</text><text transform="matrix(0.0006 -0.8800 1 0.0006 913.41 972.68)" font-size="38.65">S</text><text transform="matrix(0.0006 -0.9677 1 0.0006 919.19 949.07)" font-size="27.40">4</text></g><g aria-label="L2S4"><text transform="matrix(0.0006 -0.9701 1 0.0006 989.51 1021.60)" font-size="38.31">L</text><text transform="matrix(0.0006 -0.9325 1 0.0006 995.44 1001.04)" font-size="27.46">2</text><text transform="matrix(0.0006 -0.8800 1 0.0006 989.66 972.68)" font-size="38.65">S</text><text transform="matrix(0.0006 -0.9677 1 0.0006 995.44 949.07)" font-size="27.40">4</text></g><g aria-label="L2dphi"><text transform="matrix(0.0006 -0.9701 1 0.0006 1066.40 1029.35)" font-size="38.31">L</text><text transform="matrix(0.0006 -0.9325 1 0.0006 1072.34 1008.79)" font-size="27.46">2</text><text transform="matrix(0.0006 -1.0381 1 0.0006 1066.40 981.66)" font-size="38.31">Δ</text><text transform="matrix(0.0006 -1.1200 1 0.0006 1066.12 955.87)" font-size="37.54" font-style="italic">ϕ</text></g><g aria-label="L2sig"><text transform="matrix(0.0006 -0.9701 1 0.0006 1138.94 1021.60)" font-size="38.31">L</text><text transform="matrix(0.0006 -0.9325 1 0.0006 1144.88 1001.04)" font-size="27.46">2</text><text transform="matrix(0.0006 -1.0038 1 0.0006 1139.10 973.18)" font-size="37.73" font-style="italic">σ</text><text transform="matrix(0.0006 -1.1200 1 0.0006 1144.68 950.18)" font-size="26.81" font-style="italic">ϕ</text></g><g aria-label="L1dphi"><text transform="matrix(0.0006 -0.9701 1 0.0006 1218.90 1029.35)" font-size="38.31">L</text><text transform="matrix(0.0006 -0.9226 1 0.0006 1224.84 1008.49)" font-size="27.40">1</text><text transform="matrix(0.0006 -1.0381 1 0.0006 1218.90 981.66)" font-size="38.31">Δ</text><text transform="matrix(0.0006 -1.1200 1 0.0006 1218.62 955.87)" font-size="37.54" font-style="italic">ϕ</text></g><g aria-label="L1sig"><text transform="matrix(0.0006 -0.9701 1 0.0006 1291.44 1021.60)" font-size="38.31">L</text><text transform="matrix(0.0006 -0.9226 1 0.0006 1297.38 1000.74)" font-size="27.40">1</text><text transform="matrix(0.0006 -1.0038 1 0.0006 1291.60 973.18)" font-size="37.73" font-style="italic">σ</text><text transform="matrix(0.0006 -1.1200 1 0.0006 1297.18 950.18)" font-size="26.81" font-style="italic">ϕ</text></g><g aria-label="TEC"><text transform="matrix(0.0006 -1.0304 1 0.0006 1371.98 1002.89)" font-size="38.31">T</text><text transform="matrix(0.0006 -0.8800 1 0.0006 1371.98 979.64)" font-size="38.31">E</text><text transform="matrix(0.0006 -0.8800 1 0.0006 1372.12 956.78)" font-size="38.65">C</text></g><g><text transform="matrix(0.0006 -1.1200 1 0.0006 749.80 806.74)" font-size="37.99">f</text><text transform="matrix(0.0006 -1.0330 1 0.0006 749.95 794.18)" font-size="38.15">b</text><text transform="matrix(0.0006 -1.0447 1 0.0006 750.04 771.60)" font-size="37.89" font-style="italic">μ</text><text transform="matrix(0.0006 -0.8800 1 0.0006 749.80 748.79)" font-size="38.31">E</text><text transform="matrix(0.0006 -0.9100 1 0.0006 749.95 725.08)" font-size="38.05">s</text><text transform="matrix(0.0006 -0.8800 1 0.0006 749.80 695.42)" font-size="38.31">P</text><text transform="matrix(0.0006 -0.8800 1 0.0006 749.80 673.83)" font-size="38.31">F</text><text transform="matrix(0.0006 -0.9941 1 0.0006 749.80 653.10)" font-size="38.31">I</text></g></g>
</svg>
</body></html>
